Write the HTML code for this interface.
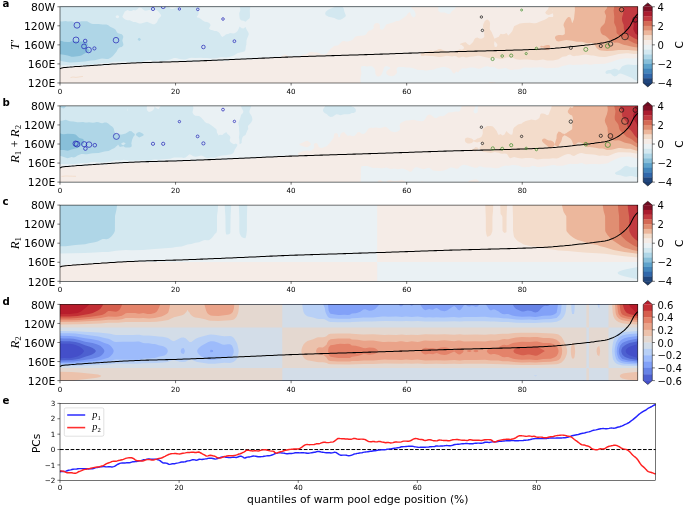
<!DOCTYPE html>
<html lang="en"><head><meta charset="utf-8"><title>Warm pool edge quantile composites</title>
<style>html,body{margin:0;padding:0;background:#fff}svg{display:block}text{fill:#000}</style></head>
<body>
<svg width="685" height="506" viewBox="0 0 685 506">
<rect width="685" height="506" fill="#fff"/>
<g>
<rect x="60.0" y="6.8" width="577.8" height="76.2" fill="#88bfd9"/>
<path d="M60 6.8L637.8 6.8L637.8 83L60 83L60 54.3L63.9 54.7L67.7 55.5L71.6 56.7L73.5 56.7L75.5 56.4L79.3 56.1L81.3 55.6L85.1 53.3L89.3 51.5L89.5 50.3L86.9 47.9L87.1 46.7L87.7 45.5L87.9 44.2L87.3 43L85.1 41.8L83.2 41.5L79.3 41.6L73.5 40.8L71.6 41.2L69.7 42.1L67.7 42.1L63.9 41.7L61.9 41L60 40.7Z" fill="#afd6e7" fill-rule="evenodd"/>
<path d="M60 6.8L637.8 6.8L637.8 83L60 83L60 60.5L61.9 61.3L69.7 62.4L71.6 62.5L85.1 61.6L90.9 60.6L94.8 60.3L100.6 58.8L102.5 58.6L106.4 59.1L108.3 59L111.1 57.6L112.2 56.6L112.7 56.3L116.6 51.5L118 48.7L119.9 47.3L121.8 46.9L123.2 45.5L123.4 44.2L122.3 40.6L123.3 37L123 35.8L121.8 34.2L118 33.3L116.9 32.2L115.6 29.7L114 28.5L110.2 26.8L108.3 25.3L106.4 24.4L104.4 24.6L102.5 24.5L98.6 24L92.9 23.9L90.9 23.4L87.1 21.3L81.3 21.3L75.5 22.4L71.6 21.3L67.7 21.4L65.8 21.1L61.9 21.5L60 21.3ZM138.4 38.2L137.6 39.4L138.6 40.6L139.2 40.9L140.1 40.6L141 39.4L140 38.2L139.2 37.7Z" fill="#d3e8f0" fill-rule="evenodd"/>
<path d="M170.1 6.8L177.6 6.8L175.9 8L172.1 8.9L170.1 8.4L169.8 8L169.3 6.8ZM201.1 6.8L239.8 6.8L240.3 9.2L240.3 10.4L239.4 12.8L239.2 14L239.7 18.4L240.7 20.1L241.6 20.6L243.6 20.8L245.5 21.7L247.4 19.9L249.1 18.8L249.9 17.6L250 15.2L249.8 10.4L250.4 6.8L335 6.8L328.6 9.6L327.3 10.4L326 11.6L325.3 12.8L325.2 14L325.9 15.2L328.6 16.8L334.4 17.9L336.3 19L338.3 19.8L340.2 19.7L342.1 19.1L344.3 17.6L345.5 16.4L345.8 15.2L344.3 11.6L343.9 9.2L343.4 8L342.5 6.8L637.8 6.8L637.8 64.8L633.9 64.9L628.1 64.5L626.2 64.8L622.7 66L621.3 67.2L620.6 68.4L620.4 69L619.9 69.6L618.5 70.4L617.5 69.6L614.6 68.6L610.7 70L608.8 70.1L606.9 70.5L606.3 70.9L605.3 72.1L605.7 73.3L606.9 74L608.8 73.4L610.7 73.4L612.7 75.6L614.6 76.5L616.8 75.7L618.5 74L620.4 73.6L622.3 74L624.3 74.7L632 78.1L633.9 79.6L635.9 80.5L637.8 80.7L637.8 83L60 83L60 65.5L63.9 65.2L71.6 65.2L92.9 64.4L94.8 64.2L100.6 63.3L102.5 63.1L106.4 63.3L108.3 63.1L112.2 61.9L114.1 61.8L125.7 61.6L129.6 62.3L131.5 62.3L135.4 61.7L141.2 61.9L145 60.7L148.9 60L150.8 60.1L152.8 60.8L154.7 61.1L158.6 60.3L162.4 60.9L164.4 60.8L170.1 59.5L174 58L175.9 58L179.8 59L183.7 59.6L185.6 59.4L189.5 58L191.4 57.7L195.3 58.1L201.1 57.8L203 58L206.9 58L210.7 58.5L216.5 58.2L220.4 57.3L222.3 57.2L226.2 57.4L230.1 56.7L233.9 55.5L237.8 53L243.6 51.8L244.3 51.5L245.4 50.3L245.8 46.7L246.4 44.2L246.5 40.6L247.2 38.2L248.3 35.8L248.7 34.6L248.7 33.4L248.2 32.2L246.7 29.7L245.5 26.9L243.6 28.6L241.6 28.3L239.7 26.4L237.6 30.9L235.9 32.5L233.9 33.4L232 33.3L230.1 33L228.1 34L226.2 34.2L224.3 35.7L222.3 36.9L221.1 35.8L220.4 34.6L219.9 33.4L218.7 32.2L216.5 31L214.6 30.9L212.7 30.2L210.4 29.7L208.9 28.5L210.3 26.1L210.5 24.9L210 23.7L208.8 22.7L206.9 22L204.9 21.8L202 20.1L201.1 19.1L200.4 18.8L199.1 17.7L197.5 17.6L197.2 17.5L196.8 16.4L198 15.2L198.5 14L198.8 11.6L199.1 10.4L200.5 6.8ZM139.2 7.4L141.2 7.8L143.1 9.5L145 10.7L147 10.5L148.9 10.1L152.8 10.3L154.7 10L156.6 10.1L158.4 11.6L161.2 15.2L160.8 16.4L158.6 18.7L156.8 22.5L154.7 24.2L152.8 24.2L147 21.7L141.2 23.5L139.2 23.4L135.4 22.1L133.4 22.1L129.6 20.2L127.6 20.3L125.7 19.7L124.2 18.8L122.8 17.6L122.4 16.4L124.8 11.6L127.6 10.1L128.5 10.4L129.6 11L131.5 11.1L133.4 10.1L135.4 10.4L137.3 9.3ZM116 15.8L118 15.2L119.2 16.4L118.8 17.6L118 18.2L116 17.8L115.7 16.4Z" fill="#eaf1f4" fill-rule="evenodd"/>
<path d="M411.7 6.8L438.2 6.8L438.4 8L438.2 10.4L438.9 11.6L440.7 12.6L444.6 12.4L448.4 14L450.4 13.4L451.5 11.6L452.7 10.4L454.2 9.4L455.4 8L456 6.8L496.4 6.8L496.7 7.6L498.7 7.3L498.9 6.8L637.8 6.8L637.8 57.6L633.9 58.4L626.2 58.3L620.4 59L616.8 60L612.7 61.6L606.9 63.3L604.9 63.7L599.2 64.1L595.3 63.9L593.4 64.2L591.4 64.7L589.5 64.7L587.6 64.2L585.6 64.1L581.8 64.8L576 64.8L574 65.1L572.1 64.9L570.2 64.4L568.2 64.7L566.3 65.3L562.4 65.9L558.6 67.4L552.8 68L548.9 68L547 68.3L545 68.1L541.2 67.3L539.2 67.2L537.3 67.5L533.4 67.5L529.6 67.8L525.7 67.4L523.8 67.6L519.9 69.3L518 69.6L514.1 69.5L512.2 70L510.3 69.9L509.3 69.6L508.3 69.2L506.4 67.9L504.5 68L502.5 68.6L500.6 68.8L498.7 69.3L496.7 68.6L494.8 67.4L492.9 67L490.9 67.3L487.1 66.2L485.1 66.4L481.3 68.2L479.3 68.8L477.4 68.5L475.5 67.9L473.5 67.5L469.7 67.6L465.8 68.4L463.9 68.2L461.9 68.4L459.1 70.9L458.1 72.6L456.2 71.6L454.2 73.8L452.3 72.3L451.8 70.9L450.9 69.6L448.4 68.1L444.6 66.9L442.6 67L440.7 67.5L436.8 68.2L433 69.8L429.1 69.9L427.2 70.4L425.2 70.5L423.3 70.1L421.4 70L419.4 70.1L417.5 69.8L413.6 68.2L409.8 67.6L405.9 67.5L404 66.9L398.2 67L396.7 68.4L396.5 69.6L397.1 72.1L396.7 73.3L395.6 74.5L394.3 75.4L392.4 76.2L390.4 76.1L388.5 75.6L386.9 74.5L386.3 73.3L386.2 72.1L386.8 70.9L388.5 69.5L390.3 68.4L389.8 67.2L388.5 66.8L386.6 66.1L384.7 66.7L384.2 67.2L383.7 68.4L383 70.9L381.6 74.5L380.8 75.5L378.9 76.5L376.9 76.2L375.6 74.5L375.3 73.3L375.3 70.9L375 69.6L374.4 68.4L373.1 67L371.1 66.1L367.3 66.4L363.4 66L361.5 66.2L361 67.2L360.9 69.6L361.4 73.3L360.5 78.1L360.6 83L60 83L60 68.6L61.9 67.9L71.6 67.8L72.5 67.2L73.5 66.9L87.1 66.8L89 65.8L106.4 65.7L108.3 64.5L125.7 64.4L127.6 63.3L160.5 63.3L162.4 62.1L197.2 62L199.1 60.9L228.1 60.9L230.1 59.7L243.6 59.4L255.2 59.5L257.1 58.3L274.5 57.9L278.5 57.6L280.3 56.9L284.2 54.5L286.1 54.7L288.5 56.3L290 56.6L295.8 56.7L299.6 56.5L300.4 56.3L301.6 55.2L303.5 54.4L305.4 54.5L307.4 53.6L309.3 52.2L311.2 51.7L315.1 52.4L317 52.4L318.9 53L320.9 53.9L322.8 54.3L324.7 54.2L326.7 53.8L328.6 51.2L330.5 49.1L334.4 45.7L336.3 45.8L338.3 45.3L342.1 41.2L344.1 41L346 41.6L347.9 41.6L351.8 40.2L352.8 39.4L354.9 37L355.7 36.4L357.6 36L363.4 35.6L365.3 34.9L366.8 33.4L367.3 32.2L368.6 30.9L369.2 30.6L371.1 30.2L373.5 28.5L373.7 27.3L373.6 26.1L373.8 24.9L375 23.4L376.9 22.9L378.9 23.4L379.2 23.7L379.8 24.9L379.8 27.3L380.1 28.5L380.8 29.4L382.7 29.8L384.6 27.3L385.8 24.9L386.6 24.3L393 22.5L396.2 20.9L398.2 21L400.1 20.3L405.3 16.4L406.7 15.2L407.8 13.5L409.8 12.1L410.3 12.8L411.2 15.2L412.3 16.4L413.6 17.4L415.2 16.4L415.6 15.2L415.6 13.7L414.8 11.6L413.6 9.7L412.7 9.2L411.5 8L411.2 6.8ZM489 82.6L490.9 81.9L494.8 82.4L495.4 83L488.5 83Z" fill="#f5ece7" fill-rule="evenodd"/>
<path d="M548.9 6.8L637.8 6.8L637.8 53.8L633.9 53.9L628.1 53.2L626.2 53.2L618.5 54.1L612.7 55.6L608.8 56.2L606.9 56.7L604.9 56.9L599.2 56.8L593.4 55.6L591.4 55.5L585.6 54.5L583.7 54.7L577.9 55.7L576 55.7L574 56.3L572.1 55.8L570.2 54.5L568.2 55.1L566.3 56.3L564.4 56.6L562.4 56.7L558.6 59.2L556.6 59.8L552.8 60.4L547 60.5L543.1 59.4L537.3 60.2L535.4 60.2L527.7 59.4L523.8 59.4L519.9 59.7L518 59.6L516.1 59.3L512.2 57.6L508.3 57.3L506.4 57.4L502.5 58.9L500.6 59L494.8 57.8L489 57.9L479.3 55.8L477.4 55.8L473.5 56.4L469.7 56.7L467.7 57.2L465.8 57.4L463.9 56.7L461.9 56.7L460 57.6L458.1 57.6L456.2 56.2L454.2 55.9L452.3 56.5L446.5 55.8L440.7 57L438.8 57.1L434.4 56.3L433 55.9L429.1 55.9L425.2 55.6L423.3 56.1L421.4 55.9L420.7 55.1L420.7 53.9L421.4 53L423.3 52.2L425.2 52.3L427.2 51.9L429.1 50.9L431 50.6L433 51L434.9 50.8L436.8 50.1L438.8 49.1L440.7 49L444.6 50.7L446.5 51.3L450.4 51.8L454.2 51.9L456.2 51.4L458.1 50L460 49.2L461.9 49.7L463.2 49.1L464.1 47.9L463.7 46.7L462.2 45.5L461.9 45L460 44.5L460 44.1L462.1 43L463.9 42.4L465.8 42.2L467.7 44.3L469.7 45.3L471.6 43.4L472.2 43L473.2 41.8L474.2 39.4L475.5 38L477.4 37.4L479.3 38.5L481.3 38.8L483.2 38.1L484.2 37L484.3 35.8L484 30.9L483 27.3L483.1 24.9L483.5 23.7L484.7 21.3L486.1 20.1L487.1 19.5L488.1 20.1L489.4 21.3L489.9 22.5L490.1 23.7L489.8 27.3L489.8 28.5L490.1 29.7L491.6 32.1L493.7 37L494.8 38.9L495.3 38.2L498.7 36.7L500.6 33.7L502.5 34.2L504.5 34L506.4 33L508.3 35.5L510.3 33.6L512.2 31.3L514.1 26.3L516.6 24.9L519.9 23.6L523.8 23.1L529.6 22.7L533.4 23.3L535.4 23.2L537.3 22.8L541.2 21L544.1 20.1L546.5 18.8L548.9 17.1L552.8 16.9L553.1 16.4L553.3 15.2L552.8 13.3L548.9 15L547 14.4L546.2 14L545.2 12.8L545.9 11.6L547.9 9.2L548.5 8L548.8 6.8ZM552.5 10.4L552.8 10.9L552.8 10.4L552.8 9.2ZM494.5 41.8L494.2 43L494.1 44.2L494.7 46.7L494.8 46.9L496.7 46.7L497.3 45.5L497.3 44.2L496.7 43.4L495.2 41.8L494.8 41Z" fill="#f3dccb" fill-rule="evenodd"/>
<path d="M576 6.8L637.8 6.8L637.8 50.7L633.9 50.6L628.1 50L626.2 49.9L622.3 50.1L618.5 50L612.7 50.8L606.9 51L601.1 50.4L599.2 49.9L597.2 48.6L596.6 47.9L594.3 44.2L593.4 43.2L592.5 43L591.4 42.8L589.5 43.2L587.6 43.3L583.7 42.2L581.8 41.8L576.8 41.8L572.1 40.8L566.3 40.1L562.4 40.7L558.6 41.6L556.6 41.1L555 38.2L555 37L556.1 35.8L558.6 35L560.5 34.9L562.4 35.2L564.3 34.6L564.9 33.4L564.7 28.5L563.7 26.1L563.5 24.9L563.8 23.7L564.4 22.3L566.3 19L568.2 16.9L570.2 17.2L571.3 20.1L572.1 23.3L572.6 22.5L574 19.1L574.9 10.4L574.8 6.8ZM545 45.5L547 45L548.9 44.9L549.7 45.5L550.3 46.7L550 47.9L549.3 49.1L548.9 49.4L547 50.2L544.7 49.1L543.1 47.2L541.2 47.6L539.9 46.7L541.2 45.7L543.1 46.2Z" fill="#ecb79c" fill-rule="evenodd"/>
<path d="M608.8 6.8L637.8 6.8L637.8 47.6L633.9 47.1L630.1 46.3L626.2 45.2L624.3 44.9L622.1 44.2L618.5 42.7L616.5 42.5L614.6 42.7L612.7 42.1L610.7 40.7L606.9 37L604.9 35.6L603 35L601.4 33.4L600.8 32.2L600.5 30.9L600.3 29.7L600.4 28.5L601.1 27L604.3 23.7L604.9 22.5L606 16.4L605.9 15.2L604.8 12.8L604.6 11.6L605.1 10.4L606.9 8.2L607.3 6.8Z" fill="#e08e72" fill-rule="evenodd"/>
<path d="M614.6 6.8L637.8 6.8L637.8 44.3L633.8 43L628.1 40.1L623.4 38.2L621.4 37L616.9 33.4L616.5 32.2L616.5 29.7L616.1 27.3L614.6 24L614.1 22.5L614.3 16.4L613.6 10.4L614.2 6.8Z" fill="#d46a55" fill-rule="evenodd"/>
<path d="M624.3 6.8L637.8 6.8L637.8 39.7L635.9 39L634.3 38.2L626.2 33.4L625.1 32.2L624.5 30.9L623.8 28.5L623.7 24.9L622.2 21.3L621.9 18.8L622.3 16.4L623.1 14L623.3 12.8L623.3 10.4L623.7 6.8Z" fill="#c23a40" fill-rule="evenodd"/>
<path d="M637.8 6.8L637.8 35L635.9 33.9L635.4 33.4L634.6 32.1L633.4 29.7L633.3 28.5L633.8 24.9L633 21.3L633.1 20.1L633.6 18.8L636.3 15.2L636.7 14L637.3 8L637.3 6.8Z" fill="#ab1d2f" fill-rule="evenodd"/>
<polyline fill="none" stroke="#000" stroke-width="1.05" stroke-linejoin="round" points="60.0,68.8 61.9,67.9 63.9,67.6 65.8,67.4 67.7,67.2 69.7,67.1 71.6,66.9 73.5,66.8 75.5,66.6 77.4,66.5 79.3,66.4 81.3,66.2 83.2,66.1 85.1,65.9 87.1,65.8 89.0,65.7 90.9,65.5 92.9,65.4 94.8,65.3 96.7,65.2 98.6,65.0 100.6,64.9 102.5,64.8 104.4,64.6 106.4,64.5 108.3,64.4 110.2,64.2 112.2,64.1 114.1,64.0 116.0,63.9 118.0,63.8 119.9,63.7 121.8,63.6 123.8,63.5 125.7,63.4 127.6,63.3 129.6,63.2 131.5,63.1 133.4,63.0 135.4,62.9 137.3,62.8 139.2,62.8 141.2,62.7 143.1,62.6 145.0,62.5 147.0,62.5 148.9,62.4 150.8,62.4 152.8,62.3 154.7,62.3 156.6,62.2 158.6,62.2 160.5,62.1 162.4,62.1 164.4,62.0 166.3,62.0 168.2,61.9 170.1,61.9 172.1,61.8 174.0,61.8 175.9,61.7 177.9,61.7 179.8,61.6 181.7,61.5 183.7,61.5 185.6,61.4 187.5,61.3 189.5,61.2 191.4,61.2 193.3,61.1 195.3,61.0 197.2,61.0 199.1,60.9 201.1,60.8 203.0,60.7 204.9,60.6 206.9,60.6 208.8,60.5 210.7,60.4 212.7,60.3 214.6,60.2 216.5,60.2 218.5,60.1 220.4,60.0 222.3,59.9 224.3,59.8 226.2,59.8 228.1,59.7 230.1,59.6 232.0,59.5 233.9,59.4 235.9,59.3 237.8,59.3 239.7,59.2 241.6,59.1 243.6,59.0 245.5,58.9 247.4,58.8 249.4,58.8 251.3,58.7 253.2,58.6 255.2,58.5 257.1,58.4 259.0,58.3 261.0,58.2 262.9,58.1 264.8,58.1 266.8,58.0 268.7,57.9 270.6,57.8 272.6,57.7 274.5,57.6 276.4,57.5 278.4,57.5 280.3,57.4 282.2,57.3 284.2,57.2 286.1,57.1 288.0,57.1 290.0,57.0 291.9,56.9 293.8,56.8 295.8,56.8 297.7,56.7 299.6,56.7 301.6,56.6 303.5,56.5 305.4,56.5 307.4,56.4 309.3,56.3 311.2,56.3 313.1,56.2 315.1,56.2 317.0,56.1 318.9,56.0 320.9,56.0 322.8,55.9 324.7,55.9 326.7,55.8 328.6,55.7 330.5,55.7 332.5,55.6 334.4,55.6 336.3,55.5 338.3,55.4 340.2,55.4 342.1,55.3 344.1,55.3 346.0,55.2 347.9,55.2 349.9,55.1 351.8,55.0 353.7,55.0 355.7,54.9 357.6,54.9 359.5,54.8 361.5,54.7 363.4,54.7 365.3,54.6 367.3,54.6 369.2,54.5 371.1,54.4 373.1,54.4 375.0,54.3 376.9,54.3 378.9,54.2 380.8,54.1 382.7,54.1 384.7,54.0 386.6,53.9 388.5,53.9 390.4,53.8 392.4,53.7 394.3,53.7 396.2,53.6 398.2,53.5 400.1,53.5 402.0,53.4 404.0,53.3 405.9,53.3 407.8,53.2 409.8,53.1 411.7,53.1 413.6,53.0 415.6,52.9 417.5,52.9 419.4,52.8 421.4,52.7 423.3,52.7 425.2,52.6 427.2,52.5 429.1,52.5 431.0,52.4 433.0,52.4 434.9,52.3 436.8,52.2 438.8,52.2 440.7,52.1 442.6,52.0 444.6,52.0 446.5,51.9 448.4,51.9 450.4,51.8 452.3,51.7 454.2,51.7 456.2,51.6 458.1,51.6 460.0,51.5 461.9,51.5 463.9,51.4 465.8,51.4 467.7,51.3 469.7,51.3 471.6,51.2 473.5,51.2 475.5,51.1 477.4,51.1 479.3,51.0 481.3,51.0 483.2,50.9 485.1,50.9 487.1,50.8 489.0,50.8 490.9,50.7 492.9,50.7 494.8,50.6 496.7,50.6 498.7,50.5 500.6,50.5 502.5,50.4 504.5,50.4 506.4,50.3 508.3,50.3 510.3,50.2 512.2,50.2 514.1,50.1 516.1,50.0 518.0,50.0 519.9,49.9 521.9,49.9 523.8,49.8 525.7,49.7 527.7,49.7 529.6,49.6 531.5,49.5 533.4,49.4 535.4,49.4 537.3,49.3 539.2,49.2 541.2,49.1 543.1,49.0 545.0,48.9 547.0,48.8 548.9,48.7 550.8,48.6 552.8,48.4 554.7,48.3 556.6,48.1 558.6,47.9 560.5,47.8 562.4,47.6 564.4,47.4 566.3,47.2 568.2,47.0 570.2,46.8 572.1,46.6 574.0,46.4 576.0,46.2 577.9,46.0 579.8,45.8 581.8,45.6 583.7,45.4 585.6,45.1 587.6,44.9 589.5,44.7 591.4,44.5 593.4,44.2 595.3,43.9 597.2,43.7 599.2,43.4 601.1,43.1 603.0,42.9 604.9,42.6 606.9,42.1 608.8,41.6 610.7,40.9 612.7,40.1 614.6,39.3 616.5,38.2 618.5,37.1 620.4,35.7 622.3,34.3 624.3,32.6 626.2,30.7 628.1,28.6 630.1,26.0 632.0,22.2 633.9,18.7 635.9,15.9 637.8,13.9"/>
</g>
<rect x="60.0" y="6.8" width="577.8" height="76.2" fill="none" stroke="#000" stroke-width="0.55"/>
<line x1="57.4" y1="6.75" x2="60.0" y2="6.75" stroke="#000" stroke-width="0.55"/>
<text x="55.3" y="10.95" font-family="'DejaVu Sans','Liberation Sans',sans-serif" font-size="10.8" text-anchor="end">80W</text>
<line x1="57.4" y1="25.80" x2="60.0" y2="25.80" stroke="#000" stroke-width="0.55"/>
<text x="55.3" y="30.00" font-family="'DejaVu Sans','Liberation Sans',sans-serif" font-size="10.8" text-anchor="end">120W</text>
<line x1="57.4" y1="44.85" x2="60.0" y2="44.85" stroke="#000" stroke-width="0.55"/>
<text x="55.3" y="49.05" font-family="'DejaVu Sans','Liberation Sans',sans-serif" font-size="10.8" text-anchor="end">160W</text>
<line x1="57.4" y1="63.90" x2="60.0" y2="63.90" stroke="#000" stroke-width="0.55"/>
<text x="55.3" y="68.10" font-family="'DejaVu Sans','Liberation Sans',sans-serif" font-size="10.8" text-anchor="end">160E</text>
<line x1="57.4" y1="82.95" x2="60.0" y2="82.95" stroke="#000" stroke-width="0.55"/>
<text x="55.3" y="87.15" font-family="'DejaVu Sans','Liberation Sans',sans-serif" font-size="10.8" text-anchor="end">120E</text>
<line x1="60.00" y1="83.0" x2="60.00" y2="85.5" stroke="#000" stroke-width="0.55"/>
<text x="60.00" y="94.0" font-family="'DejaVu Sans','Liberation Sans',sans-serif" font-size="7.1" text-anchor="middle">0</text>
<line x1="175.56" y1="83.0" x2="175.56" y2="85.5" stroke="#000" stroke-width="0.55"/>
<text x="175.56" y="94.0" font-family="'DejaVu Sans','Liberation Sans',sans-serif" font-size="7.1" text-anchor="middle">20</text>
<line x1="291.12" y1="83.0" x2="291.12" y2="85.5" stroke="#000" stroke-width="0.55"/>
<text x="291.12" y="94.0" font-family="'DejaVu Sans','Liberation Sans',sans-serif" font-size="7.1" text-anchor="middle">40</text>
<line x1="406.68" y1="83.0" x2="406.68" y2="85.5" stroke="#000" stroke-width="0.55"/>
<text x="406.68" y="94.0" font-family="'DejaVu Sans','Liberation Sans',sans-serif" font-size="7.1" text-anchor="middle">60</text>
<line x1="522.24" y1="83.0" x2="522.24" y2="85.5" stroke="#000" stroke-width="0.55"/>
<text x="522.24" y="94.0" font-family="'DejaVu Sans','Liberation Sans',sans-serif" font-size="7.1" text-anchor="middle">80</text>
<g>
<rect x="643.2" y="6.75" width="9.1" height="5.06" fill="#7f1025"/>
<rect x="643.2" y="11.51" width="9.1" height="5.06" fill="#ab1d2f"/>
<rect x="643.2" y="16.27" width="9.1" height="5.06" fill="#c23a40"/>
<rect x="643.2" y="21.04" width="9.1" height="5.06" fill="#d46a55"/>
<rect x="643.2" y="25.80" width="9.1" height="5.06" fill="#e08e72"/>
<rect x="643.2" y="30.56" width="9.1" height="5.06" fill="#ecb79c"/>
<rect x="643.2" y="35.33" width="9.1" height="5.06" fill="#f3dccb"/>
<rect x="643.2" y="40.09" width="9.1" height="5.06" fill="#f5ece7"/>
<rect x="643.2" y="44.85" width="9.1" height="5.06" fill="#eaf1f4"/>
<rect x="643.2" y="49.61" width="9.1" height="5.06" fill="#d3e8f0"/>
<rect x="643.2" y="54.38" width="9.1" height="5.06" fill="#afd6e7"/>
<rect x="643.2" y="59.14" width="9.1" height="5.06" fill="#88bfd9"/>
<rect x="643.2" y="63.90" width="9.1" height="5.06" fill="#5fa3cb"/>
<rect x="643.2" y="68.66" width="9.1" height="5.06" fill="#4385bb"/>
<rect x="643.2" y="73.42" width="9.1" height="5.06" fill="#3168ab"/>
<rect x="643.2" y="78.19" width="9.1" height="5.06" fill="#20467d"/>
<path d="M643.2 6.8 L647.8 2.9 L652.3 6.8 Z" fill="#6e0c20"/>
<path d="M643.2 83.0 L647.8 86.9 L652.3 83.0 Z" fill="#1b3c6e"/>
<path d="M643.2 6.8 L647.8 2.9 L652.3 6.8 L652.3 83.0 L647.8 86.9 L643.2 83.0 Z" fill="none" stroke="#000" stroke-width="0.5"/>
</g>
<line x1="652.3" y1="6.75" x2="654.9" y2="6.75" stroke="#000" stroke-width="0.55"/>
<text x="657.4" y="10.85" font-family="'DejaVu Sans','Liberation Sans',sans-serif" font-size="10.1">4</text>
<line x1="652.3" y1="25.80" x2="654.9" y2="25.80" stroke="#000" stroke-width="0.55"/>
<text x="657.4" y="29.90" font-family="'DejaVu Sans','Liberation Sans',sans-serif" font-size="10.1">2</text>
<line x1="652.3" y1="44.85" x2="654.9" y2="44.85" stroke="#000" stroke-width="0.55"/>
<text x="657.4" y="48.95" font-family="'DejaVu Sans','Liberation Sans',sans-serif" font-size="10.1">0</text>
<line x1="652.3" y1="63.90" x2="654.9" y2="63.90" stroke="#000" stroke-width="0.55"/>
<text x="657.4" y="68.00" font-family="'DejaVu Sans','Liberation Sans',sans-serif" font-size="10.1">−2</text>
<line x1="652.3" y1="82.95" x2="654.9" y2="82.95" stroke="#000" stroke-width="0.55"/>
<text x="657.4" y="87.05" font-family="'DejaVu Sans','Liberation Sans',sans-serif" font-size="10.1">−4</text>
<text transform="translate(683.3,44.9) rotate(-90)" font-family="'DejaVu Sans','Liberation Sans',sans-serif" font-size="10.6" text-anchor="middle">C</text>
<g>
<rect x="60.0" y="105.9" width="577.8" height="76.2" fill="#88bfd9"/>
<path d="M60 105.9L637.8 105.9L637.8 182.1L60 182.1L60 150L63.9 150.1L67.7 150.7L71.6 149.4L77.4 147.9L79.3 147.1L81.3 145.6L83 144.6L83.8 143.4L84.1 142.2L84 141L83.2 139L79.3 138L77.4 136.3L76.2 134.9L75.5 134.6L73.5 134.1L67.7 133.8L63.9 134.3L61.9 134L60 133.2Z" fill="#afd6e7" fill-rule="evenodd"/>
<path d="M67.7 105.9L637.8 105.9L637.8 182.1L60 182.1L60 155.8L67.7 158.3L71.6 157L73.5 157.4L75.5 157L75.7 156.7L77.6 155.5L81.3 154.1L83.2 153.9L85.1 154.2L87.1 154.2L90.9 153.4L92.9 153.2L98.6 153L104.4 151.4L108.3 151L109.1 150.7L112.2 149L114.1 148.2L115.7 147L116 146.5L117.2 145.8L118 144.4L119.9 147.1L121.8 146.4L123.8 146.2L124.4 147L125.7 147.4L129.6 147.6L131.1 147L131.5 146.5L131.7 145.8L131.6 144.6L131.3 143.4L132.1 139.8L133.4 136.8L134.9 134.9L134.6 133.7L133.4 132.9L131.5 131.2L129.6 131L125.7 133.5L123.8 134L121.8 134.4L118 134.4L116 134.1L114.8 132.5L114.3 131.3L113.9 128.9L113.3 127.7L112.1 126.5L110.2 125.3L108.3 123.5L106.4 122.4L104.4 122.5L102.5 123.2L100.6 122.9L98.6 122.2L96.7 122.1L94.8 122.6L92.9 122.7L90.9 122.4L89 122.3L87.1 122.5L85.1 122.5L83.2 122.1L79.3 122.3L77.4 122.2L73.5 121.5L69.7 121.2L65.8 119.8L61.9 120.7L60 120.7L60 106.7L61.9 107.9L63.9 108.6L65.5 107.1L66 105.9ZM137.7 132.5L136.1 133.7L135.8 134.9L137 136.1L139.2 137.4L142.5 136.1L143.9 134.9L143 133.7L140.7 132.5L139.2 131.9ZM121.8 142.9L123.8 142.3L125.8 143.4L124.3 144.6L123.8 145.3L121.8 144.8L121.2 143.4Z" fill="#d3e8f0" fill-rule="evenodd"/>
<path d="M148.9 105.9L154.7 105.9L154.3 108.3L153.6 109.5L152.3 110.7L150.8 111.6L148.9 112L147.5 110.7L147 109.9L146.7 108.3L147 105.9ZM156.6 105.9L160.5 105.9L158.6 109.3L156.4 108.3L155 107.1L154.7 105.9ZM193.3 105.9L241 105.9L241.6 108L243.2 110.7L243.3 111.9L242.7 113.2L241.6 114.3L240.9 115.6L240.3 118L238.4 122.8L238.4 124L239 126.5L239.1 127.7L239.1 130.1L239.4 133.7L238.9 137.3L239.5 141L239.4 143.4L239.7 144.3L241.6 142.9L241.8 139.8L242.5 137.3L243.6 135.9L245.5 134.9L247.4 130.2L248.3 128.9L247.9 126.5L248.4 125.3L249.4 124.5L251.3 122.2L252.2 120.4L252.4 119.2L252.2 118L251.9 116.8L251.3 115.4L249.8 113.2L249.4 111.9L249.5 110.7L250.9 107.1L251.2 105.9L325.1 105.9L324.7 106.9L323.7 108.3L323.1 109.5L323 110.7L323.6 111.9L325 113.2L326.7 114.1L328.6 116L330.5 117L332.5 116.8L336.3 114.2L338.3 114.5L340.2 115.3L344.1 114.3L347.9 114.3L349.9 114L351.8 112.9L353.7 113.1L355.4 111.9L355.7 111.5L355.8 110.7L355.8 109.5L355 108.3L353.7 106.9L351.8 106.8L351.5 105.9L637.8 105.9L637.8 166.8L635.9 167.2L630.1 167.3L628.1 166.2L626.2 165.8L624.3 166.6L620.4 169.8L615.3 172.4L614.9 173.6L616.5 174.8L620.4 175.3L624.3 176.4L626.2 176.7L630.1 176L632 176.1L635.9 177L637.8 177.2L637.8 182.1L60 182.1L60 164.1L67.7 164.2L75.5 163.9L83.2 163.1L87.1 163.1L90.9 162.3L94.8 161.9L100.6 162.6L102.5 162.5L106.4 161.9L110.2 161.8L114.1 160.6L116 160.3L119.9 160.5L123.8 159.8L127.6 160.4L137.3 160.6L139.2 160.5L141.2 160L143.1 159.9L147 160.6L148.9 160.7L150.8 160.3L152.8 159.7L154.7 159.4L158.6 159.7L160.5 159.6L170.1 158.7L174 157.6L175.9 157.4L181.7 157.6L183.7 157.9L185.6 157.4L189.5 154.3L191.4 155.1L193.3 156.2L195.3 156.8L197.2 156.6L199.1 155.9L201.1 155.5L203 156L204.9 157.3L206.9 157.9L208.8 157.9L210.7 157.5L214.6 157.7L218.5 156.3L222.3 155.5L226.2 155.2L228.1 154.7L230.1 154.6L232 154.1L233.2 153.1L234 151.9L234.8 149.4L235.9 148.1L237.2 145.8L237.3 144.6L235.9 143.4L233.9 144.3L232 143.3L230.7 142.2L229.8 141L229.7 139.8L230.2 138.6L230.4 137.3L229.9 136.1L227.3 133.7L226.2 132L225.7 132.5L223.7 133.7L222.3 135.1L220.4 134.7L219.1 134.9L218.5 135.8L218.4 134.9L216.9 132.5L216.7 130.1L216.1 128.9L213 126.5L208.8 123.6L206.9 123.3L204.9 122L203.9 120.4L201.1 117.4L199.1 116L195.3 115.7L193.6 114.4L192.8 113.2L192.5 111.9L193.4 108.3L193 105.9ZM127.6 108.2L127.8 109.5L127.6 111.2L127.3 110.7L127.3 109.5Z" fill="#eaf1f4" fill-rule="evenodd"/>
<path d="M461.9 105.9L475.4 105.9L474.9 108.3L473.6 110.7L473.5 111.9L474.8 113.2L475.5 113.4L477.4 112.4L477.7 111.9L477.8 110.7L477.7 108.3L478 105.9L637.8 105.9L637.8 158.1L635.9 158.2L630.1 156.8L628.1 156.5L622.3 156.9L620.4 157.3L616.5 158.7L610.7 161.4L608.8 162.8L606.9 163.6L599.2 164.2L595.3 163.9L591.4 164.1L589.5 163.9L585.6 164.5L581.8 163L579.8 163.2L577.9 163.9L572.1 164L570.2 163.7L562.4 165.7L556.6 165.8L554.7 165.1L552.8 164.9L544.4 166.4L539.2 167.1L537.3 167.1L533.4 165.7L531.5 166.1L529.6 166.9L523.8 167.3L521.9 166.9L519.9 166.1L518 165.5L514.1 164.9L512.2 165.1L510.3 165.5L508.3 165.7L506.4 165.6L504.5 165.8L500.6 166.9L498.7 167.9L496.7 168.3L494.8 168.3L490.9 167.4L485.1 167.5L483.2 167.2L481.3 166.4L479.3 166.2L477.4 167.5L475.5 167.9L469.7 166.2L467.7 165.5L463.9 164.8L461.9 165.2L460 166.6L458.1 168.6L456.2 168.8L454.2 167.9L452.3 167.4L450.4 167.6L446.5 169.6L444.6 170.2L440.7 170.9L438.8 171.1L433 170.6L430.7 168.8L429.1 167.8L427.2 167.9L425.2 168.8L423.3 169.2L419.4 168.1L417.5 167.3L415.6 167.2L413.6 168.6L411.7 171.4L409.8 171.8L407.8 170.5L406.8 170L404 168.9L402 168.6L398.2 169.2L394.3 168.6L390.4 169.1L386.6 167.6L382.7 168.3L380.8 168.3L376.9 167.8L375 168L373.1 168L367.3 166.1L363.4 165.9L361.5 166.2L361 167.6L360.8 170L360.9 176.1L360.6 182.1L60 182.1L60 166.9L67.7 166.9L71.6 166.7L73.5 166L87.1 165.9L89 164.8L106.4 164.8L108.3 163.7L125.7 163.5L127.6 162.5L160.5 162.4L162.4 161.3L183.7 161.2L189.5 161L197.2 161.2L199.1 160L228.1 159.9L230.1 158.8L243.6 158.7L249.4 158.3L255.2 158.4L257.1 157.2L262.9 157.4L278.4 157.1L282.2 156.9L284.2 155.7L295.8 155.7L299.4 155.5L298.1 154.3L298.1 153.1L300.5 151.9L303.5 151L307.4 150.4L309.3 151L311 150.7L312.8 149.4L314.1 148.2L314.5 147L313.7 144.6L314.6 143.4L315.1 143.1L317 143.3L317.9 144.6L318.7 147L320.9 148.1L322.8 147.8L324.3 147L326.7 146.2L329.3 143.4L333.1 138.6L333.8 137.3L334 134.9L334.4 133.4L336.3 132.9L337.4 133.7L338.2 134.9L338.1 136.1L338.3 137.3L340.2 137.1L340.2 135.1L339.8 134.9L340.2 134.9L340.9 133.7L342.1 132.6L344.1 132L346 134.3L347.9 136L349.9 135.2L351.8 136.1L353.7 136.2L355.7 134.8L357.6 132.2L359.5 132L361.5 133.7L363.4 134L364 133.7L365.8 132.5L368.2 128.9L369.2 128.1L371.1 127.7L373.1 128L375 127.5L376.9 127.4L378.9 127.9L380.8 127.9L384.7 126.7L386.6 127.3L388.7 128.9L390.7 131.3L394.3 132.2L396.2 132L398.2 131.3L399.8 130.1L400.1 128.9L399.6 125.3L400.1 123.7L401 122.8L404 121.2L405.8 120.4L409.8 120.3L411.7 119.9L413.6 119.7L417.5 120.8L419.4 120.9L421.4 121.3L423.3 121L425.2 118.9L427.2 115.6L429.1 114.4L431 114.9L434.9 118.1L436.8 117.9L438.8 116.5L440.7 116L442.6 116.2L444.6 115.6L445.8 114.4L448.4 112.5L452.3 112.3L454.2 111.8L456.2 111.6L458.1 111.8L460 111L461.4 107.1L461.7 105.9ZM307.4 140.8L309.7 142.2L310.7 143.4L310.9 144.6L309.6 145.8L307.4 147.2L305.4 147L301.6 145.8L299.6 145L299.3 144.6L299.6 144L300.4 143.4L301.6 143.1L305.4 141.2ZM473.5 179.7L475.5 179.3L477.4 179.8L479.3 181.8L479.8 182.1L467.7 182.1L469.7 180.5ZM378.9 180.1L380.8 180.2L382.7 181.6L384.7 182.1L386.6 181.4L388.5 180.2L390.4 179.9L392.4 180.7L394.3 181L398.2 180.7L402 179.8L404.3 180.9L405.8 182.1L377.3 182.1ZM421.4 181.6L423.3 181.8L423.5 182.1L421 182.1ZM489 181.7L489.2 182.1L488.1 182.1Z" fill="#f5ece7" fill-rule="evenodd"/>
<path d="M552.8 105.9L637.8 105.9L637.8 153.6L635.9 153.5L630.1 152.5L622.3 152.2L618.5 152.3L615.3 153.1L608.8 155.8L606.9 156L603 155.4L599.2 155.7L595.3 154.8L593.4 154.5L585.6 154L581.8 153L579.8 153.2L577.2 154.3L574 155.9L572.1 155.6L570.2 154.2L568.2 154L566.8 154.3L564.4 154.9L562.4 155.9L560.5 157.1L558.6 158L556.6 158.4L552.8 158.3L548.9 158.7L543.1 158.7L539.2 159.3L537.3 159.4L535.4 159L533.4 158.2L531.5 157.9L529.6 158.1L525.7 157.9L521.9 158.4L518 157.9L514.1 157.1L510.3 158.2L509.7 157.9L508.6 156.7L508 155.5L507.2 154.3L506.4 153.8L504.5 153.4L502.5 153.7L500.6 153.6L498.7 152.7L496.7 152.6L494.8 152.1L490.9 152.9L483.2 151.7L481.4 150.7L479.9 149.4L479.5 148.2L479.9 147L481.3 145.2L481.5 144.6L481.6 143.4L481.3 142.8L479.3 141.8L477.4 142.5L475.9 142.2L473.5 141.2L472.8 142.2L471.6 143L469.7 143.6L467.7 143.6L465.8 142.6L464.9 141L464.9 139.8L465.3 138.6L465.8 138L467.7 137.5L471.5 138.6L473.3 139.8L473.5 140.6L475.5 139.8L477.3 138.6L479.3 138L481.3 136.9L482.3 134.9L482.7 133.7L482.8 132.5L482.6 130.1L483 128.9L484.4 127.7L487.1 126L490.9 126L492.9 126.5L494.1 127.7L496.7 131.1L497.8 133.7L498.7 134.9L500.6 133.9L502.5 135.5L504.5 134.4L506.4 131.1L507.7 132.5L510.3 134.5L512.2 134.8L512.8 132.5L513 130.1L513.3 128.9L514.1 127.6L516.1 125.9L518 124.6L521.9 123.4L522.4 122.8L525.7 121L531.5 119.6L535.4 120.2L537.3 119.6L539.4 118L540.3 114.4L541.2 113.6L543.1 113.4L545 114L547 115.3L548.8 114.4L549.6 111.9L551.2 108.3L551.7 105.9ZM475.5 147L477.4 147.5L478.7 148.2L477.9 149.4L477.4 149.7L475.5 151.7L473.5 150.9L471.6 150.7L469.7 149.9L469.7 149.4L471.6 149.4L473.5 149.1Z" fill="#f3dccb" fill-rule="evenodd"/>
<path d="M574 105.9L637.8 105.9L637.8 150.8L635.9 150.6L630.1 148.8L626.2 148.7L620.4 147.9L618.5 148L616.5 148.4L612.7 149.5L608.8 150L606.9 149.9L603 148.4L599.2 148.6L595.3 147.8L589.5 147.1L587.6 147.2L585.6 146.3L583.7 144.3L581.8 143.1L579.8 142.6L577.9 142.5L574 145.6L573.3 144.6L572 141L571.4 139.8L570.3 138.6L566.3 136L564.4 135.3L562.4 137L561.4 141L560.5 142.7L559.9 143.4L558.6 146L556.6 146.3L555.6 145.8L554.7 144.6L555.6 141L556.5 138.6L556.7 134.9L557.2 133.7L558.6 131.6L560.5 131.9L562.4 133.4L563.7 133.7L564.4 134.3L564.8 133.7L566.3 133.2L567.1 132.5L571.1 130.1L572.1 129.2L572.3 127.7L572.2 124L572.9 120.4L572.9 118L572.1 115.6L570.2 114.8L568.5 113.2L567.8 111.9L567.9 110.7L570.2 107L572.1 108.1L573.1 107.1L573.6 105.9ZM543.1 138.7L545 138.6L547 139.7L548.9 140.5L550.8 140.5L552.1 141L553.8 142.2L554.4 143.4L554.7 144.6L554.2 145.8L552.7 147L550.8 147.9L548.6 147L543.1 142.5L542 141L542.1 139.8Z" fill="#ecb79c" fill-rule="evenodd"/>
<path d="M608.8 105.9L637.8 105.9L637.8 147.4L635.9 146.7L632 144.6L630.1 143.8L626.2 143.1L624.3 142.6L620.4 140.8L618.5 140.3L614.6 140.5L612.7 140.1L608.6 138.6L607.9 137.3L608.2 134.9L607.7 131.3L607.5 127.7L606.9 125.9L605.3 122.8L604.8 120.4L605.4 118L606.9 114.3L607.7 110.7L607.8 109.5L607.4 105.9Z" fill="#e08e72" fill-rule="evenodd"/>
<path d="M614.6 105.9L637.8 105.9L637.8 143.5L635.3 142.2L632 139.5L630.1 138.4L627.6 137.3L626.2 136.4L624.8 134.9L620.8 131.3L619.9 130.1L619.3 128.9L618.5 125.3L618 124L615.3 120.4L614.8 119.2L614.7 116.8L615.4 111.9L615.4 110.7L614.2 105.9Z" fill="#d46a55" fill-rule="evenodd"/>
<path d="M620.4 105.9L637.8 105.9L637.8 138.5L636.2 137.3L635 136.1L632 131.7L630.5 130.1L628.9 128.9L627.8 127.7L627.3 126.5L627.2 124L626.9 122.8L625.3 120.4L623.1 118L622.4 116.8L622.1 115.6L622 111.9L621.7 110.7L620.4 107.8L620 105.9Z" fill="#c23a40" fill-rule="evenodd"/>
<path d="M635.9 105.9L637.8 105.9L637.8 127.8L636.7 124L633.8 119.2L633.2 118L633 116.8L633.1 115.6L635 108.3L635.1 105.9Z" fill="#ab1d2f" fill-rule="evenodd"/>
<polyline fill="none" stroke="#000" stroke-width="1.05" stroke-linejoin="round" points="60.0,167.9 61.9,167.1 63.9,166.8 65.8,166.5 67.7,166.4 69.7,166.2 71.6,166.1 73.5,165.9 75.5,165.8 77.4,165.6 79.3,165.5 81.3,165.4 83.2,165.2 85.1,165.1 87.1,165.0 89.0,164.8 90.9,164.7 92.9,164.6 94.8,164.4 96.7,164.3 98.6,164.2 100.6,164.1 102.5,163.9 104.4,163.8 106.4,163.7 108.3,163.5 110.2,163.4 112.2,163.3 114.1,163.2 116.0,163.0 118.0,162.9 119.9,162.8 121.8,162.7 123.8,162.6 125.7,162.5 127.6,162.4 129.6,162.3 131.5,162.2 133.4,162.2 135.4,162.1 137.3,162.0 139.2,161.9 141.2,161.8 143.1,161.8 145.0,161.7 147.0,161.6 148.9,161.6 150.8,161.5 152.8,161.5 154.7,161.4 156.6,161.4 158.6,161.3 160.5,161.3 162.4,161.2 164.4,161.2 166.3,161.1 168.2,161.1 170.1,161.0 172.1,161.0 174.0,160.9 175.9,160.9 177.9,160.8 179.8,160.7 181.7,160.7 183.7,160.6 185.6,160.5 187.5,160.5 189.5,160.4 191.4,160.3 193.3,160.2 195.3,160.2 197.2,160.1 199.1,160.0 201.1,159.9 203.0,159.9 204.9,159.8 206.9,159.7 208.8,159.6 210.7,159.6 212.7,159.5 214.6,159.4 216.5,159.3 218.5,159.2 220.4,159.2 222.3,159.1 224.3,159.0 226.2,158.9 228.1,158.8 230.1,158.7 232.0,158.7 233.9,158.6 235.9,158.5 237.8,158.4 239.7,158.3 241.6,158.2 243.6,158.2 245.5,158.1 247.4,158.0 249.4,157.9 251.3,157.8 253.2,157.7 255.2,157.7 257.1,157.6 259.0,157.5 261.0,157.4 262.9,157.3 264.8,157.2 266.8,157.1 268.7,157.0 270.6,156.9 272.6,156.9 274.5,156.8 276.4,156.7 278.4,156.6 280.3,156.5 282.2,156.4 284.2,156.4 286.1,156.3 288.0,156.2 290.0,156.1 291.9,156.1 293.8,156.0 295.8,155.9 297.7,155.9 299.6,155.8 301.6,155.7 303.5,155.7 305.4,155.6 307.4,155.6 309.3,155.5 311.2,155.4 313.1,155.4 315.1,155.3 317.0,155.3 318.9,155.2 320.9,155.1 322.8,155.1 324.7,155.0 326.7,155.0 328.6,154.9 330.5,154.8 332.5,154.8 334.4,154.7 336.3,154.7 338.3,154.6 340.2,154.5 342.1,154.5 344.1,154.4 346.0,154.4 347.9,154.3 349.9,154.2 351.8,154.2 353.7,154.1 355.7,154.1 357.6,154.0 359.5,153.9 361.5,153.9 363.4,153.8 365.3,153.8 367.3,153.7 369.2,153.6 371.1,153.6 373.1,153.5 375.0,153.5 376.9,153.4 378.9,153.3 380.8,153.3 382.7,153.2 384.7,153.2 386.6,153.1 388.5,153.0 390.4,153.0 392.4,152.9 394.3,152.8 396.2,152.8 398.2,152.7 400.1,152.6 402.0,152.6 404.0,152.5 405.9,152.4 407.8,152.4 409.8,152.3 411.7,152.2 413.6,152.2 415.6,152.1 417.5,152.0 419.4,152.0 421.4,151.9 423.3,151.8 425.2,151.8 427.2,151.7 429.1,151.6 431.0,151.6 433.0,151.5 434.9,151.4 436.8,151.4 438.8,151.3 440.7,151.3 442.6,151.2 444.6,151.1 446.5,151.1 448.4,151.0 450.4,150.9 452.3,150.9 454.2,150.8 456.2,150.8 458.1,150.7 460.0,150.7 461.9,150.6 463.9,150.6 465.8,150.5 467.7,150.5 469.7,150.4 471.6,150.4 473.5,150.3 475.5,150.3 477.4,150.2 479.3,150.2 481.3,150.1 483.2,150.1 485.1,150.0 487.1,150.0 489.0,149.9 490.9,149.9 492.9,149.8 494.8,149.8 496.7,149.7 498.7,149.7 500.6,149.6 502.5,149.6 504.5,149.5 506.4,149.5 508.3,149.4 510.3,149.4 512.2,149.3 514.1,149.3 516.1,149.2 518.0,149.1 519.9,149.1 521.9,149.0 523.8,148.9 525.7,148.9 527.7,148.8 529.6,148.7 531.5,148.7 533.4,148.6 535.4,148.5 537.3,148.4 539.2,148.3 541.2,148.3 543.1,148.2 545.0,148.1 547.0,148.0 548.9,147.8 550.8,147.7 552.8,147.6 554.7,147.4 556.6,147.3 558.6,147.1 560.5,146.9 562.4,146.7 564.4,146.6 566.3,146.4 568.2,146.2 570.2,146.0 572.1,145.8 574.0,145.5 576.0,145.3 577.9,145.1 579.8,144.9 581.8,144.7 583.7,144.5 585.6,144.3 587.6,144.1 589.5,143.9 591.4,143.6 593.4,143.4 595.3,143.1 597.2,142.8 599.2,142.5 601.1,142.3 603.0,142.0 604.9,141.7 606.9,141.3 608.8,140.7 610.7,140.0 612.7,139.3 614.6,138.4 616.5,137.4 618.5,136.2 620.4,134.9 622.3,133.4 624.3,131.8 626.2,129.9 628.1,127.8 630.1,125.2 632.0,121.4 633.9,117.8 635.9,115.1 637.8,113.1"/>
</g>
<rect x="60.0" y="105.9" width="577.8" height="76.2" fill="none" stroke="#000" stroke-width="0.55"/>
<line x1="57.4" y1="105.90" x2="60.0" y2="105.90" stroke="#000" stroke-width="0.55"/>
<text x="55.3" y="110.10" font-family="'DejaVu Sans','Liberation Sans',sans-serif" font-size="10.8" text-anchor="end">80W</text>
<line x1="57.4" y1="124.95" x2="60.0" y2="124.95" stroke="#000" stroke-width="0.55"/>
<text x="55.3" y="129.15" font-family="'DejaVu Sans','Liberation Sans',sans-serif" font-size="10.8" text-anchor="end">120W</text>
<line x1="57.4" y1="144.00" x2="60.0" y2="144.00" stroke="#000" stroke-width="0.55"/>
<text x="55.3" y="148.20" font-family="'DejaVu Sans','Liberation Sans',sans-serif" font-size="10.8" text-anchor="end">160W</text>
<line x1="57.4" y1="163.05" x2="60.0" y2="163.05" stroke="#000" stroke-width="0.55"/>
<text x="55.3" y="167.25" font-family="'DejaVu Sans','Liberation Sans',sans-serif" font-size="10.8" text-anchor="end">160E</text>
<line x1="57.4" y1="182.10" x2="60.0" y2="182.10" stroke="#000" stroke-width="0.55"/>
<text x="55.3" y="186.30" font-family="'DejaVu Sans','Liberation Sans',sans-serif" font-size="10.8" text-anchor="end">120E</text>
<line x1="60.00" y1="182.1" x2="60.00" y2="184.7" stroke="#000" stroke-width="0.55"/>
<text x="60.00" y="193.2" font-family="'DejaVu Sans','Liberation Sans',sans-serif" font-size="7.1" text-anchor="middle">0</text>
<line x1="175.56" y1="182.1" x2="175.56" y2="184.7" stroke="#000" stroke-width="0.55"/>
<text x="175.56" y="193.2" font-family="'DejaVu Sans','Liberation Sans',sans-serif" font-size="7.1" text-anchor="middle">20</text>
<line x1="291.12" y1="182.1" x2="291.12" y2="184.7" stroke="#000" stroke-width="0.55"/>
<text x="291.12" y="193.2" font-family="'DejaVu Sans','Liberation Sans',sans-serif" font-size="7.1" text-anchor="middle">40</text>
<line x1="406.68" y1="182.1" x2="406.68" y2="184.7" stroke="#000" stroke-width="0.55"/>
<text x="406.68" y="193.2" font-family="'DejaVu Sans','Liberation Sans',sans-serif" font-size="7.1" text-anchor="middle">60</text>
<line x1="522.24" y1="182.1" x2="522.24" y2="184.7" stroke="#000" stroke-width="0.55"/>
<text x="522.24" y="193.2" font-family="'DejaVu Sans','Liberation Sans',sans-serif" font-size="7.1" text-anchor="middle">80</text>
<g>
<rect x="643.2" y="105.90" width="9.1" height="5.06" fill="#7f1025"/>
<rect x="643.2" y="110.66" width="9.1" height="5.06" fill="#ab1d2f"/>
<rect x="643.2" y="115.43" width="9.1" height="5.06" fill="#c23a40"/>
<rect x="643.2" y="120.19" width="9.1" height="5.06" fill="#d46a55"/>
<rect x="643.2" y="124.95" width="9.1" height="5.06" fill="#e08e72"/>
<rect x="643.2" y="129.71" width="9.1" height="5.06" fill="#ecb79c"/>
<rect x="643.2" y="134.48" width="9.1" height="5.06" fill="#f3dccb"/>
<rect x="643.2" y="139.24" width="9.1" height="5.06" fill="#f5ece7"/>
<rect x="643.2" y="144.00" width="9.1" height="5.06" fill="#eaf1f4"/>
<rect x="643.2" y="148.76" width="9.1" height="5.06" fill="#d3e8f0"/>
<rect x="643.2" y="153.53" width="9.1" height="5.06" fill="#afd6e7"/>
<rect x="643.2" y="158.29" width="9.1" height="5.06" fill="#88bfd9"/>
<rect x="643.2" y="163.05" width="9.1" height="5.06" fill="#5fa3cb"/>
<rect x="643.2" y="167.81" width="9.1" height="5.06" fill="#4385bb"/>
<rect x="643.2" y="172.57" width="9.1" height="5.06" fill="#3168ab"/>
<rect x="643.2" y="177.34" width="9.1" height="5.06" fill="#20467d"/>
<path d="M643.2 105.9 L647.8 102.0 L652.3 105.9 Z" fill="#6e0c20"/>
<path d="M643.2 182.1 L647.8 186.0 L652.3 182.1 Z" fill="#1b3c6e"/>
<path d="M643.2 105.9 L647.8 102.0 L652.3 105.9 L652.3 182.1 L647.8 186.0 L643.2 182.1 Z" fill="none" stroke="#000" stroke-width="0.5"/>
</g>
<line x1="652.3" y1="105.90" x2="654.9" y2="105.90" stroke="#000" stroke-width="0.55"/>
<text x="657.4" y="110.00" font-family="'DejaVu Sans','Liberation Sans',sans-serif" font-size="10.1">4</text>
<line x1="652.3" y1="124.95" x2="654.9" y2="124.95" stroke="#000" stroke-width="0.55"/>
<text x="657.4" y="129.05" font-family="'DejaVu Sans','Liberation Sans',sans-serif" font-size="10.1">2</text>
<line x1="652.3" y1="144.00" x2="654.9" y2="144.00" stroke="#000" stroke-width="0.55"/>
<text x="657.4" y="148.10" font-family="'DejaVu Sans','Liberation Sans',sans-serif" font-size="10.1">0</text>
<line x1="652.3" y1="163.05" x2="654.9" y2="163.05" stroke="#000" stroke-width="0.55"/>
<text x="657.4" y="167.15" font-family="'DejaVu Sans','Liberation Sans',sans-serif" font-size="10.1">−2</text>
<line x1="652.3" y1="182.10" x2="654.9" y2="182.10" stroke="#000" stroke-width="0.55"/>
<text x="657.4" y="186.20" font-family="'DejaVu Sans','Liberation Sans',sans-serif" font-size="10.1">−4</text>
<text transform="translate(683.3,144.0) rotate(-90)" font-family="'DejaVu Sans','Liberation Sans',sans-serif" font-size="10.6" text-anchor="middle">C</text>
<g>
<rect x="60.0" y="205.1" width="577.8" height="76.2" fill="#afd6e7"/>
<path d="M118 205.1L637.8 205.1L637.8 281.3L60 281.3L60 246.2L65.8 246.2L75.5 245L85.1 244.3L89 243.3L94.8 242.3L97.5 241.4L102.5 239.1L104.4 239.1L106.4 239.3L108.3 238.8L109.9 237.8L111.3 236.5L112.4 235.3L114 232.9L114.6 231.7L114.9 230.5L115 216L116.4 209.9L117.1 205.1Z" fill="#d3e8f0" fill-rule="evenodd"/>
<path d="M218.5 205.1L224.7 205.1L225 211.1L225.4 216L225.6 231.7L226.2 234.4L228.1 234.4L230.1 233.4L230.4 231.7L230.6 216L230.9 211.1L231.2 205.1L238.8 205.1L239.3 217.2L239.3 230.5L239.7 233.5L240.5 235.3L241.6 236.9L243.6 238L245.5 238.2L246.3 235.3L246.9 230.5L246.9 217.2L247.3 205.1L637.8 205.1L637.8 267L626.2 269.2L622.3 270.2L618.9 271.6L617.5 272.8L618.2 274L620.8 275.3L625 276.5L637.8 279.3L637.8 281.3L60 281.3L60 253.4L85.1 253L94.8 252.5L102.5 251.9L108.3 251.9L116 250.8L125.7 249.9L131.5 250.2L143.1 249.9L154.7 248.9L158.6 248.8L168.2 247.9L172.1 247.7L175.9 247L181.7 246.4L187.5 244.6L191.4 244.1L195.3 242.7L199.1 242.2L203 240.4L204.9 240.1L206.9 240.3L208.8 240.2L210.7 239L212 237.8L214 235.3L214.6 234.3L216.5 232.4L216.7 231.7L217 230.5L217 216L217.7 211.1L218.1 205.1Z" fill="#eaf1f4" fill-rule="evenodd"/>
<path d="M378.9 205.1L637.8 205.1L637.8 262.1L378.9 262.1L377.2 261.9L377.2 205.1ZM98.6 262.4L114.1 262.4L116 262.1L376.9 262.1L377.2 263.2L377.2 281.3L60 281.3L60 266.9L61.9 265.7L63.9 265.7L65.8 264.5L79.3 264.5L81.3 263.4L96.7 263.4Z" fill="#f5ece7" fill-rule="evenodd"/>
<path d="M487.1 205.1L493.2 205.1L493 211.1L492.4 217.2L492.4 230.5L492.2 231.7L490.9 235.1L489 236.2L487.1 236.7L486.3 234.1L485.8 230.5L485.8 217.2L485.3 205.1ZM500.6 205.1L507.1 205.1L506.6 216L506.5 231.7L506.4 232.3L504.5 233L503.1 231.7L502.5 230.5L502.4 217.2L502.1 216L500.6 213.9L500.2 205.1ZM514.1 205.1L637.8 205.1L637.8 257.6L624.3 256.3L604.9 253.8L597.2 253.2L587.6 252.8L577.9 252.1L568.2 251.1L558.6 250.4L545.9 248.6L539.2 247.5L535.4 246.5L531.5 246.4L525.7 245.1L523.8 244.4L518 241.3L516.1 239.5L514.7 237.8L514.1 237L513.7 235.3L513 230.5L513 217.2L512.6 205.1Z" fill="#f3dccb" fill-rule="evenodd"/>
<path d="M562.4 205.1L637.8 205.1L637.8 253.8L624.3 251.9L613.6 249.9L604.9 247.3L600.4 246.2L597.2 245.1L587.6 243.4L583.7 241.7L577.9 240.1L576 239.3L573.4 237.8L570.1 235.3L566.9 231.7L566.4 230.5L566.3 216.7L566.2 216L563.9 212.4L563.3 211.1L562.2 206.3L562 205.1Z" fill="#ecb79c" fill-rule="evenodd"/>
<path d="M603 205.1L637.8 205.1L637.8 250.9L632.3 249.9L627.8 248.6L624.2 247.4L621.7 246.2L612.7 240.2L609.9 237.8L607.7 235.3L605.5 231.7L605.2 230.5L605.1 216L603.6 211.1L602.7 205.1Z" fill="#e08e72" fill-rule="evenodd"/>
<path d="M618.5 205.1L637.8 205.1L637.8 247.3L635.1 246.2L632.8 245L628.1 242L625.7 240.2L621.8 236.5L621 235.3L619.8 232.9L619.2 230.5L619.1 216L618.4 211.1L618 206.3L617.9 205.1Z" fill="#d46a55" fill-rule="evenodd"/>
<path d="M628.1 205.1L637.8 205.1L637.8 241.2L634.8 239L632.3 236.5L631.3 235.3L629.5 231.7L629.2 230.5L629.2 217.2L628 208.7L627.7 205.1Z" fill="#c23a40" fill-rule="evenodd"/>
<path d="M637.8 205.1L637.8 215.5L636.9 211.1L636.4 205.1Z" fill="#ab1d2f" fill-rule="evenodd"/>
<polyline fill="none" stroke="#000" stroke-width="1.05" stroke-linejoin="round" points="60.0,267.1 61.9,266.3 63.9,266.0 65.8,265.7 67.7,265.6 69.7,265.4 71.6,265.3 73.5,265.1 75.5,265.0 77.4,264.8 79.3,264.7 81.3,264.6 83.2,264.4 85.1,264.3 87.1,264.2 89.0,264.0 90.9,263.9 92.9,263.8 94.8,263.6 96.7,263.5 98.6,263.4 100.6,263.3 102.5,263.1 104.4,263.0 106.4,262.9 108.3,262.7 110.2,262.6 112.2,262.5 114.1,262.4 116.0,262.2 118.0,262.1 119.9,262.0 121.8,261.9 123.8,261.8 125.7,261.7 127.6,261.6 129.6,261.5 131.5,261.4 133.4,261.4 135.4,261.3 137.3,261.2 139.2,261.1 141.2,261.0 143.1,261.0 145.0,260.9 147.0,260.8 148.9,260.8 150.8,260.7 152.8,260.7 154.7,260.6 156.6,260.6 158.6,260.5 160.5,260.5 162.4,260.4 164.4,260.4 166.3,260.3 168.2,260.3 170.1,260.2 172.1,260.2 174.0,260.1 175.9,260.1 177.9,260.0 179.8,259.9 181.7,259.9 183.7,259.8 185.6,259.7 187.5,259.7 189.5,259.6 191.4,259.5 193.3,259.4 195.3,259.4 197.2,259.3 199.1,259.2 201.1,259.1 203.0,259.1 204.9,259.0 206.9,258.9 208.8,258.8 210.7,258.8 212.7,258.7 214.6,258.6 216.5,258.5 218.5,258.4 220.4,258.4 222.3,258.3 224.3,258.2 226.2,258.1 228.1,258.0 230.1,257.9 232.0,257.9 233.9,257.8 235.9,257.7 237.8,257.6 239.7,257.5 241.6,257.4 243.6,257.4 245.5,257.3 247.4,257.2 249.4,257.1 251.3,257.0 253.2,256.9 255.2,256.9 257.1,256.8 259.0,256.7 261.0,256.6 262.9,256.5 264.8,256.4 266.8,256.3 268.7,256.2 270.6,256.1 272.6,256.1 274.5,256.0 276.4,255.9 278.4,255.8 280.3,255.7 282.2,255.6 284.2,255.6 286.1,255.5 288.0,255.4 290.0,255.3 291.9,255.3 293.8,255.2 295.8,255.1 297.7,255.1 299.6,255.0 301.6,254.9 303.5,254.9 305.4,254.8 307.4,254.8 309.3,254.7 311.2,254.6 313.1,254.6 315.1,254.5 317.0,254.5 318.9,254.4 320.9,254.3 322.8,254.3 324.7,254.2 326.7,254.2 328.6,254.1 330.5,254.0 332.5,254.0 334.4,253.9 336.3,253.9 338.3,253.8 340.2,253.7 342.1,253.7 344.1,253.6 346.0,253.6 347.9,253.5 349.9,253.4 351.8,253.4 353.7,253.3 355.7,253.3 357.6,253.2 359.5,253.1 361.5,253.1 363.4,253.0 365.3,253.0 367.3,252.9 369.2,252.8 371.1,252.8 373.1,252.7 375.0,252.7 376.9,252.6 378.9,252.5 380.8,252.5 382.7,252.4 384.7,252.4 386.6,252.3 388.5,252.2 390.4,252.2 392.4,252.1 394.3,252.0 396.2,252.0 398.2,251.9 400.1,251.8 402.0,251.8 404.0,251.7 405.9,251.6 407.8,251.6 409.8,251.5 411.7,251.4 413.6,251.4 415.6,251.3 417.5,251.2 419.4,251.2 421.4,251.1 423.3,251.0 425.2,251.0 427.2,250.9 429.1,250.8 431.0,250.8 433.0,250.7 434.9,250.6 436.8,250.6 438.8,250.5 440.7,250.5 442.6,250.4 444.6,250.3 446.5,250.3 448.4,250.2 450.4,250.1 452.3,250.1 454.2,250.0 456.2,250.0 458.1,249.9 460.0,249.9 461.9,249.8 463.9,249.8 465.8,249.7 467.7,249.7 469.7,249.6 471.6,249.6 473.5,249.5 475.5,249.5 477.4,249.4 479.3,249.4 481.3,249.3 483.2,249.3 485.1,249.2 487.1,249.2 489.0,249.1 490.9,249.1 492.9,249.0 494.8,249.0 496.7,248.9 498.7,248.9 500.6,248.8 502.5,248.8 504.5,248.7 506.4,248.7 508.3,248.6 510.3,248.6 512.2,248.5 514.1,248.5 516.1,248.4 518.0,248.3 519.9,248.3 521.9,248.2 523.8,248.1 525.7,248.1 527.7,248.0 529.6,247.9 531.5,247.9 533.4,247.8 535.4,247.7 537.3,247.6 539.2,247.5 541.2,247.5 543.1,247.4 545.0,247.3 547.0,247.2 548.9,247.0 550.8,246.9 552.8,246.8 554.7,246.6 556.6,246.5 558.6,246.3 560.5,246.1 562.4,245.9 564.4,245.8 566.3,245.6 568.2,245.4 570.2,245.2 572.1,245.0 574.0,244.7 576.0,244.5 577.9,244.3 579.8,244.1 581.8,243.9 583.7,243.7 585.6,243.5 587.6,243.3 589.5,243.1 591.4,242.8 593.4,242.6 595.3,242.3 597.2,242.0 599.2,241.7 601.1,241.5 603.0,241.2 604.9,240.9 606.9,240.5 608.8,239.9 610.7,239.2 612.7,238.5 614.6,237.6 616.5,236.6 618.5,235.4 620.4,234.1 622.3,232.6 624.3,231.0 626.2,229.1 628.1,227.0 630.1,224.4 632.0,220.6 633.9,217.0 635.9,214.3 637.8,212.3"/>
</g>
<rect x="60.0" y="205.1" width="577.8" height="76.2" fill="none" stroke="#000" stroke-width="0.55"/>
<line x1="57.4" y1="205.10" x2="60.0" y2="205.10" stroke="#000" stroke-width="0.55"/>
<text x="55.3" y="209.30" font-family="'DejaVu Sans','Liberation Sans',sans-serif" font-size="10.8" text-anchor="end">80W</text>
<line x1="57.4" y1="224.15" x2="60.0" y2="224.15" stroke="#000" stroke-width="0.55"/>
<text x="55.3" y="228.35" font-family="'DejaVu Sans','Liberation Sans',sans-serif" font-size="10.8" text-anchor="end">120W</text>
<line x1="57.4" y1="243.20" x2="60.0" y2="243.20" stroke="#000" stroke-width="0.55"/>
<text x="55.3" y="247.40" font-family="'DejaVu Sans','Liberation Sans',sans-serif" font-size="10.8" text-anchor="end">160W</text>
<line x1="57.4" y1="262.25" x2="60.0" y2="262.25" stroke="#000" stroke-width="0.55"/>
<text x="55.3" y="266.45" font-family="'DejaVu Sans','Liberation Sans',sans-serif" font-size="10.8" text-anchor="end">160E</text>
<line x1="57.4" y1="281.30" x2="60.0" y2="281.30" stroke="#000" stroke-width="0.55"/>
<text x="55.3" y="285.50" font-family="'DejaVu Sans','Liberation Sans',sans-serif" font-size="10.8" text-anchor="end">120E</text>
<line x1="60.00" y1="281.3" x2="60.00" y2="283.9" stroke="#000" stroke-width="0.55"/>
<text x="60.00" y="292.4" font-family="'DejaVu Sans','Liberation Sans',sans-serif" font-size="7.1" text-anchor="middle">0</text>
<line x1="175.56" y1="281.3" x2="175.56" y2="283.9" stroke="#000" stroke-width="0.55"/>
<text x="175.56" y="292.4" font-family="'DejaVu Sans','Liberation Sans',sans-serif" font-size="7.1" text-anchor="middle">20</text>
<line x1="291.12" y1="281.3" x2="291.12" y2="283.9" stroke="#000" stroke-width="0.55"/>
<text x="291.12" y="292.4" font-family="'DejaVu Sans','Liberation Sans',sans-serif" font-size="7.1" text-anchor="middle">40</text>
<line x1="406.68" y1="281.3" x2="406.68" y2="283.9" stroke="#000" stroke-width="0.55"/>
<text x="406.68" y="292.4" font-family="'DejaVu Sans','Liberation Sans',sans-serif" font-size="7.1" text-anchor="middle">60</text>
<line x1="522.24" y1="281.3" x2="522.24" y2="283.9" stroke="#000" stroke-width="0.55"/>
<text x="522.24" y="292.4" font-family="'DejaVu Sans','Liberation Sans',sans-serif" font-size="7.1" text-anchor="middle">80</text>
<g>
<rect x="643.2" y="205.10" width="9.1" height="5.06" fill="#7f1025"/>
<rect x="643.2" y="209.86" width="9.1" height="5.06" fill="#ab1d2f"/>
<rect x="643.2" y="214.62" width="9.1" height="5.06" fill="#c23a40"/>
<rect x="643.2" y="219.39" width="9.1" height="5.06" fill="#d46a55"/>
<rect x="643.2" y="224.15" width="9.1" height="5.06" fill="#e08e72"/>
<rect x="643.2" y="228.91" width="9.1" height="5.06" fill="#ecb79c"/>
<rect x="643.2" y="233.68" width="9.1" height="5.06" fill="#f3dccb"/>
<rect x="643.2" y="238.44" width="9.1" height="5.06" fill="#f5ece7"/>
<rect x="643.2" y="243.20" width="9.1" height="5.06" fill="#eaf1f4"/>
<rect x="643.2" y="247.96" width="9.1" height="5.06" fill="#d3e8f0"/>
<rect x="643.2" y="252.72" width="9.1" height="5.06" fill="#afd6e7"/>
<rect x="643.2" y="257.49" width="9.1" height="5.06" fill="#88bfd9"/>
<rect x="643.2" y="262.25" width="9.1" height="5.06" fill="#5fa3cb"/>
<rect x="643.2" y="267.01" width="9.1" height="5.06" fill="#4385bb"/>
<rect x="643.2" y="271.77" width="9.1" height="5.06" fill="#3168ab"/>
<rect x="643.2" y="276.54" width="9.1" height="5.06" fill="#20467d"/>
<path d="M643.2 205.1 L647.8 201.2 L652.3 205.1 Z" fill="#6e0c20"/>
<path d="M643.2 281.3 L647.8 285.2 L652.3 281.3 Z" fill="#1b3c6e"/>
<path d="M643.2 205.1 L647.8 201.2 L652.3 205.1 L652.3 281.3 L647.8 285.2 L643.2 281.3 Z" fill="none" stroke="#000" stroke-width="0.5"/>
</g>
<line x1="652.3" y1="205.10" x2="654.9" y2="205.10" stroke="#000" stroke-width="0.55"/>
<text x="657.4" y="209.20" font-family="'DejaVu Sans','Liberation Sans',sans-serif" font-size="10.1">4</text>
<line x1="652.3" y1="224.15" x2="654.9" y2="224.15" stroke="#000" stroke-width="0.55"/>
<text x="657.4" y="228.25" font-family="'DejaVu Sans','Liberation Sans',sans-serif" font-size="10.1">2</text>
<line x1="652.3" y1="243.20" x2="654.9" y2="243.20" stroke="#000" stroke-width="0.55"/>
<text x="657.4" y="247.30" font-family="'DejaVu Sans','Liberation Sans',sans-serif" font-size="10.1">0</text>
<line x1="652.3" y1="262.25" x2="654.9" y2="262.25" stroke="#000" stroke-width="0.55"/>
<text x="657.4" y="266.35" font-family="'DejaVu Sans','Liberation Sans',sans-serif" font-size="10.1">−2</text>
<line x1="652.3" y1="281.30" x2="654.9" y2="281.30" stroke="#000" stroke-width="0.55"/>
<text x="657.4" y="285.40" font-family="'DejaVu Sans','Liberation Sans',sans-serif" font-size="10.1">−4</text>
<text transform="translate(683.3,243.2) rotate(-90)" font-family="'DejaVu Sans','Liberation Sans',sans-serif" font-size="10.6" text-anchor="middle">C</text>
<g>
<rect x="60.0" y="304.4" width="577.8" height="76.2" fill="#444fc9"/>
<path d="M60 304.4L637.8 304.4L637.8 343.9L633.9 345.3L630.1 346.6L628.1 347.6L626.3 349.2L625.7 350.4L625.7 351.6L626.2 352.8L627.4 354L629.3 355.2L637.8 358.1L637.8 380.6L60 380.6L60 358.4L63.9 358.1L69.7 358.2L73.6 357.6L77.4 356.4L80 355.2L81.8 354L83 352.8L83.9 351.6L83.8 350.4L82.9 349.2L81.5 347.9L79.3 346.6L75.5 345L73.2 344.3L69.7 343.8L63.9 343.8L60 343.5Z" fill="#4d60d0" fill-rule="evenodd"/>
<path d="M60 304.4L637.8 304.4L637.8 341.2L629.5 343.1L626.2 344.5L624.3 345.7L622.3 347.6L621.6 349.2L621.3 350.4L621.3 351.6L621.6 352.8L622.3 354.5L624.3 356.4L626.2 357.6L629.9 358.8L637.8 360.1L637.8 380.6L60 380.6L60 360.2L71.6 360L75.5 359.6L79.5 358.8L85.1 356.8L90.9 355L92.9 354L94.7 352.8L95.7 351.6L95.7 350.4L94.5 349.2L92.6 347.9L89.8 346.7L85.1 345.3L79.3 343L75.5 342L71.6 341.4L69.7 341.2L63.9 341.2L60 340.9Z" fill="#6783e6" fill-rule="evenodd"/>
<path d="M60 304.4L512.8 304.4L514.1 307.1L516.1 309.1L521.9 311.6L523.8 311.6L527.7 310.6L529.6 310.7L531.5 311.1L533.4 312L535.4 312.5L537.3 312.1L537.9 311.7L539.3 310.4L541.2 308.2L543.1 306.4L545 305.8L547 305.9L548.9 305.6L550.2 304.4L637.8 304.4L637.8 338.5L628.1 340.5L624.3 341.9L622.3 342.9L620.4 345.3L619.7 346.7L619 349.2L618.8 351.6L619.2 354L620.2 356.4L621 357.6L622.3 358.9L624.3 359.6L628.1 360.5L637.8 361.6L637.8 380.6L60 380.6L60 361.7L73.5 361.4L79.3 360.7L92.2 358.8L97.1 357.6L99.9 356.4L101.6 355.2L102.9 354L103.8 352.8L104.3 351.6L104.3 350.4L103.7 349.2L102.7 347.9L100.6 346.1L98.6 345L96.7 344.3L92.6 343.1L85.1 341.7L79.3 340L73.5 338.8L69.7 338.4L63.9 338.5L60 338.3Z" fill="#82a1f8" fill-rule="evenodd"/>
<path d="M60 304.4L328 304.4L328.6 310.5L329.8 312.9L330.5 313.7L338.3 314.9L340.2 315L344.1 314.8L347.9 315L349.9 314.8L351.8 313.6L355.7 313.2L357.6 312.8L360.3 311.7L363.4 309.6L365.3 309.3L369.2 310.7L371.8 310.4L373.1 310.1L375 309.2L377.3 306.8L379.3 304.4L398.7 304.4L400.1 306.3L402 306.3L403.6 304.4L409.6 304.4L409.8 304.7L411.7 306L413.9 304.4L420.3 304.4L421.6 306.8L423.3 309L425.2 310.2L429.1 309.1L431 309.6L433 309.8L434.9 308.5L436.8 307.9L440.7 310.6L444.6 311.2L447 310.4L452.3 306.9L454.2 306L456.2 307.6L458.1 309.9L460 310.3L462 308L463.9 305.2L465.8 305L467.7 306.3L469.7 306.4L471.6 305.8L473.5 305.9L475.5 306.8L477.4 306.6L479.3 304.8L480.6 304.4L485.6 304.4L487.1 306.1L489 309.3L490.9 310.4L492.9 309.6L494.8 309.4L498.7 311.4L500.6 312.9L502.5 314L504.5 314.2L506.4 313.9L508.3 314.1L512.2 315.4L516.1 316.2L521.9 316.7L529.6 316.5L535.4 316.9L537.3 316.8L543.1 315.8L550.8 315.5L552.8 315L554.9 314.1L556.6 312.7L557.3 309.2L557.9 304.4L637.8 304.4L637.8 335.9L628.1 337.3L624.3 338.3L621.9 339.5L620.4 340.8L618.7 343.1L618.1 344.3L617 347.9L616.7 351.6L617 354L618.1 357.6L618.8 358.8L620.4 360.3L622.3 361.2L626.2 362L637.8 363L637.8 380.6L60 380.6L60 363.1L69.7 363.1L75.5 362.8L96.7 360.7L100.6 360L108.3 357.7L110.2 356.6L112.5 354L113.2 352.8L113.6 351.6L113.6 350.4L113.2 349.2L111.4 346.7L110.2 345.5L108.3 344.3L104.4 343L98.6 340.6L90.9 339L85.1 338.2L75.5 336.4L69.7 335.9L60 335.7ZM210.2 350.4L210.1 351.6L210.7 352.3L212.7 352L213.1 351.6L213 350.4L212.7 350L210.7 349.7Z" fill="#9dbbfb" fill-rule="evenodd"/>
<path d="M60 304.4L323.2 304.4L324.7 307.7L325.4 311.7L326.3 314.1L327.7 316.5L328.6 317.5L330.5 318.3L338.3 318.8L347.9 318.8L349.9 318.7L351.8 318.2L357.6 318L363.4 317.4L369.2 317.5L373.1 317.4L382.7 316.5L384.7 316.5L388.5 316.7L396.2 316.6L402 317L405.9 316.6L411.7 317L417.5 316.6L425.2 317.5L429.1 317.3L433 317.4L436.8 317.2L440.7 317.5L444.6 317.6L454.2 317L458.1 317.4L460 317.5L463.9 316.9L475.5 317L485.1 316.8L490.9 317.5L494.8 317.4L498.7 317.7L502.5 318.3L508.3 318.4L516.1 319.5L521.9 319.8L529.6 319.6L535.4 319.9L543.1 319.2L550.8 319.1L556.6 317.9L559.2 315.3L560.5 313.3L561.1 310.4L561.6 304.4L637.8 304.4L637.8 333.4L630.1 334L626.2 334.6L622.3 335.5L620.4 336.5L618.5 338.3L617 340.7L615.9 343.1L614.8 347.9L614.6 351.6L615 355.2L616 358.8L616.7 360L617.9 361.2L619.8 362.5L622.3 363.3L624.9 363.7L637.8 364.5L637.8 380.6L60 380.6L60 364.6L75.5 364.3L98.6 362.8L110.2 361.1L114.1 359.8L116 359.6L133.4 359.7L137.3 360L139.2 359.8L143.1 358.8L145 358.6L148.9 358.6L152.8 358L154.7 357.9L156.6 357.6L158.6 356.8L162.4 356.1L164.4 355.4L166.3 354.2L167.3 352.8L167.8 351.6L167.7 350.4L167.2 349.2L166.3 347.9L164.4 346.8L162.4 346L158.6 345.3L156.6 344.5L154.7 344.1L152.8 344L148.9 343.2L145 343.3L143.1 343.1L139.2 341.6L137.3 341.4L133.4 341.8L121.8 341.8L116 342L114.1 341.7L110.2 339.4L108.3 338.8L104.4 338L98.6 336.4L75.5 333.6L69.7 333.3L60 333.3ZM208.3 341.9L201.1 346L198.8 347.9L197.8 349.2L197.2 350.4L197.2 351.6L197.7 352.8L198.6 354L199.8 355.2L201.5 356.4L206.1 358.8L208.8 359.8L210.7 360.1L212.9 360L216.5 359.5L219.2 358.8L222.3 357.7L224.3 357.4L228.1 357.8L230.1 357.7L232 356.4L233.2 354L233.6 352.8L233.7 350.4L233.1 347.9L232 345.6L230.1 344.3L228.1 344.2L224.3 344.7L222.3 344.4L218.5 342.7L214.6 341.6L212.7 341.3L210.7 341.2ZM181.3 349.2L180.8 350.4L180.7 351.6L181.2 352.8L181.7 353.5L183.7 354L184.4 352.8L184.8 351.6L184.8 350.4L184.3 349.2L183.7 348.1L181.7 348.6Z" fill="#b8d0f6" fill-rule="evenodd"/>
<path d="M60 304.4L302.2 304.4L302.9 309.2L303.5 311.9L304.5 314.1L305.8 315.3L307.4 316.3L308.1 316.5L313.1 317.6L317 318.8L318.9 319.1L322.8 319L324.7 319.3L328.6 321.6L330.5 322L338.3 322.3L347.9 322.3L349.9 322.2L351.8 322L363.4 321.5L371.1 321.6L384.7 321.1L402 321.3L405.9 321.1L411.7 321.3L417.5 321.1L425.2 321.5L436.8 321.4L444.6 321.6L454.2 321.3L460 321.6L463.9 321.3L485.1 321.2L490.9 321.6L494.8 321.5L498.7 321.7L502.5 322L508.3 322L516.1 322.7L535.4 323L543.1 322.5L550.8 322.4L554.7 322.1L556.6 321.8L560.5 320.1L561.8 318.9L563.8 316.5L565 314.1L565.4 312.9L565.9 310.4L566.5 304.4L571.2 304.4L571.5 310.4L572.1 314L574 314L574.5 310.4L574.8 304.4L597.5 304.4L598.2 306.8L599.2 309L599.6 304.4L637.8 304.4L637.8 331.1L624.3 331.9L620.4 332.5L618.2 333.4L616.7 334.6L615.8 335.8L615 337.1L613.9 339.5L612.9 343.1L612.5 345.5L612.1 349.2L612 351.6L612.5 356.4L612.9 358.8L613.4 360L615.1 362.5L616.6 363.7L618.5 364.6L622.3 365.4L628.1 365.8L637.8 366L637.8 380.6L60 380.6L60 366.1L75.5 365.9L98.6 365.1L110.2 364.3L114.1 363.7L116 363.6L137.3 363.7L143.1 363.2L156.6 362.9L166.3 362.2L168.2 361.8L172.1 360.3L174 360.1L179.8 361.7L181.7 362.1L183.7 362.1L185.6 361.7L189.5 359.6L191.4 359.6L195.1 361.2L197.2 361.9L208.8 363.7L214.6 363.7L224.3 362.8L230.1 362.9L232 362.6L233.9 361.8L236 360L236.8 358.8L237.3 357.6L238.3 354L238.7 351.6L238.5 349.2L237.3 344.3L236.9 343.1L235.6 340.7L233.9 338.1L232 336.6L230.1 336.1L224.3 336.3L222.3 336.1L214.6 334.8L210.7 334.6L208.8 334.8L201.1 336.7L197.2 337.9L195.3 338.9L191.4 341.9L189.5 341.9L185.6 338.3L183.7 337.5L181.7 337.6L179.8 338.2L174 341.2L172.1 340.8L168.5 338.3L166.3 337.4L162.4 336.8L158.6 336.5L156.6 336.2L148.9 335.6L143.1 335.6L139.2 334.8L137.3 334.7L133.4 334.9L116 335L114.1 334.8L110.2 333.8L108.3 333.5L98.6 332.5L75.5 331.3L60 331.1ZM533.6 375.8L535.4 376.2L537.4 375.8L535.4 375.6Z" fill="#d3dde8" fill-rule="evenodd"/>
<path d="M60 304.4L282.3 304.4L282.3 327.4L284.2 327.6L585.6 327.6L586.4 328.6L586.4 367.3L585.6 368.1L284.2 368.1L282.3 368.5L282.3 380.6L60 380.6L60 368.1L282.2 368.1L282.3 367.3L282.2 327.6L60 327.6ZM587.6 304.4L588.9 304.4L588.9 327.4L587.6 327.6L586.4 327.4L586.4 304.4ZM608.8 304.4L637.8 304.4L637.8 327.6L608.8 327.6L608.5 328.6L608.5 367.3L608.8 368.1L637.8 368.1L637.8 380.6L608.5 380.6L608.5 368.5L606.9 368.1L589.5 368.1L588.9 367.3L588.9 328.6L589.5 327.6L606.9 327.6L608.5 327.4L608.5 304.4ZM587.6 368.1L588.9 368.5L588.9 380.6L586.4 380.6L586.4 368.5Z" fill="#e4d8d0" fill-rule="evenodd"/>
<path d="M60 304.4L239.2 304.4L238.4 311.7L237.7 314.1L236.7 316.5L235.8 317.7L233.9 319.4L232 320L230.1 320.3L218.5 320.9L210.7 320.7L208.8 320.4L204.9 319.2L199.1 317.9L195.3 317.4L193.3 316.8L191.3 315.3L190.2 314.1L189.5 312.6L188.6 311.7L187.5 309.8L186.5 311.7L184.4 314.1L183.7 314.6L182.1 315.3L174 317.2L168.2 319.9L162.4 320.9L156.6 321.7L148.9 322.1L143.1 321.9L125.7 321.9L118 322.8L108.3 322.8L100.6 323.5L79.3 324.3L60 324.6ZM612.7 304.4L637.8 304.4L637.8 324.4L628.1 323.9L622.3 323.3L620.4 322.8L618.5 322L616.5 320.8L615.8 320.1L614.8 318.9L613.5 316.5L613.2 315.3L612.7 312.9L612.3 306.8L612.3 304.4ZM338.3 333.4L349.9 333.4L351.8 333.8L363.4 334.4L373.1 334.3L384.7 335L388.5 334.8L396.2 334.9L402 334.6L405.9 335L411.7 334.7L417.5 335L425.2 334.3L436.8 334.5L444.6 334.2L454.2 334.7L460 334.3L463.9 334.7L475.5 334.6L485.1 334.8L490.9 334.3L494.8 334.4L498.7 334.1L502.5 333.7L508.3 333.7L514.1 333.1L521.9 332.8L535.4 332.7L552.8 333.4L556.6 334L558.5 334.6L560.5 335.9L561.6 337.1L563.1 339.5L565.5 344.3L567 349.2L567.2 351.6L566.8 354L565.5 357.6L564 360L561.5 362.5L560.5 363.1L558.8 363.7L556.6 364.2L550.8 364.6L535.4 365L521.9 364.9L485.1 363.7L463.9 363.7L460 364L454.2 363.8L444.6 364L436.8 363.8L425.2 364L417.5 363.6L411.7 363.8L405.9 363.6L402 363.8L384.7 363.6L373.1 364L363.4 363.9L347.9 364.5L330.5 364.3L328.6 364L326.7 362.9L324.7 362.5L322.8 362.3L318.9 362.3L317 362.1L313.1 361.2L307.4 360.2L305.4 359.3L304.7 358.8L303.6 357.6L302.3 355.2L301.6 352.8L301.4 351.6L301.6 349.2L302.4 346.7L303.7 344.3L305.4 342.4L307.4 341.1L313.1 339.2L317 337.6L318.9 337.2L322.8 337.2L324.7 336.9L326.7 336.1L328.6 334.3L330.5 333.7ZM572.1 343.2L574 343.3L574.9 347.9L575.1 350.4L575.1 352.8L574.6 356.4L574 358.6L572.1 358.6L571.4 356.4L571 354L570.8 351.6L570.9 349.2L571.2 346.7ZM599.2 345.8L600 349.2L600.1 351.6L599.8 354L599.2 356.3L597.2 354.7L596.6 351.6L596.7 349.2L597.2 347.4ZM60 371.8L71.6 372L79.3 372.6L98.1 374.6L101.3 375.8L100.1 377L96.7 377.7L90.9 378.5L73.5 380.4L60 380.6ZM635.9 372.1L637.8 372L637.8 380.5L628.1 379.7L624.3 379L622.3 378.4L620.4 377.2L620.1 377L619.8 375.8L620.7 374.6L622.3 373.8L624.2 373.3L628.1 372.7Z" fill="#ecc2ac" fill-rule="evenodd"/>
<path d="M60 304.4L170.1 304.4L169.5 308L168.5 311.7L167.9 312.9L166.5 314.1L164.3 315.3L161.5 316.5L154.7 318L148.9 318.4L143.1 318L139.2 318.3L133.4 318L125.7 318.1L121.8 319.2L118 319.7L108.3 319.7L100.6 320.6L77.4 321.8L60 322.1ZM204.9 304.4L234.3 304.4L233.9 308.6L232.9 311.7L232 313.1L230.1 314.3L228.1 314.7L218.5 316L212.7 315.7L210.7 315.5L208.8 314.6L208.2 314.1L207.2 312.9L206.1 310.4L204.4 304.4ZM616.5 304.4L637.8 304.4L637.8 321.9L628.1 321.2L622.3 320.3L620.4 319.6L618.5 318.2L617 316.5L616.4 315.3L615.9 314.1L615.5 311.7L615 304.4ZM533.4 337L537.3 337L543.1 337.9L548.9 338L552.8 338.5L556.6 339.8L558.6 341.4L560.1 343.1L560.7 344.3L561.5 346.7L562.2 350.4L561.9 354L560.8 357.6L560 358.8L558.6 360L556.6 360.8L550.8 361.8L543.1 361.9L535.4 362.5L529.6 362.3L521.9 362.4L514.1 362L508.3 361.2L502.5 361.2L498.7 360.6L494.8 360.4L490.9 360.5L489 360.3L485.1 359.8L475.5 360.1L463.9 360L460 360.5L454.2 360L444.6 360.6L436.8 360.2L425.2 360.4L417.5 359.6L411.7 360L405.9 359.6L402 360.1L400.1 360L396.2 359.7L388.5 359.8L384.7 359.5L373.1 360.4L363.4 360.4L357.6 360.9L351.8 361.1L349.9 361.5L338.3 361.6L330.5 361.1L328.6 360.5L327.2 358.8L326.7 357.7L324.7 355.9L322.8 354.7L318.9 354.8L317 353.6L316.5 352.8L316.1 351.6L316.1 350.4L317 348.5L318.9 347.3L322.8 347.4L324.7 346.2L326.7 344.4L327.1 343.1L328.6 340.5L330.3 339.5L330.5 339.3L338.3 338.5L349.9 338.6L351.8 339.4L357.6 339.8L363.4 340.7L365.3 340.8L369.2 340.4L373.1 340.6L382.7 342L384.7 342L388.5 341.7L396.2 341.9L400.1 341.3L402 341.3L405.9 341.9L407.8 341.9L411.7 341.3L417.5 341.9L419.4 341.7L423.3 340.8L425.2 340.6L429.1 340.8L433 340.7L436.8 341L440.7 340.5L444.6 340.3L454.2 341.3L458.1 340.6L460 340.6L463.9 341.4L475.5 341.2L485.1 341.6L490.9 340.5L494.8 340.8L498.7 340.3L502.5 339.2L504.5 339L506.4 339.3L508.3 339.2L512.2 338.2L516.1 337.5L521.9 337.1L529.6 337.3Z" fill="#eaa389" fill-rule="evenodd"/>
<path d="M60 304.4L160.2 304.4L158.8 308L157.5 310.4L156.6 311.7L154.7 313.1L150.8 314.1L147.6 314.1L143.1 313L139.2 313.7L137.3 313.6L135.4 313L133.4 312.9L127.6 313.1L125.7 313.3L124.7 314.1L121.8 315.7L118 316.6L116 316.7L108.3 316.6L100.6 318.1L79.3 319.9L69.7 320.3L60 320.3ZM618.5 304.4L637.8 304.4L637.8 320.1L630.1 319.3L626.2 318.6L622.3 317.6L620.4 316.5L618.6 314.1L618 311.7L617.2 304.4ZM521.9 341.8L529.6 342L535.4 341.4L537.3 341.6L543.1 342.9L548.9 343L550.8 343.2L553.8 344.3L556.6 346.2L557.7 347.9L558.2 349.2L558.5 350.4L558.5 351.6L558.3 352.8L557.8 354L556.6 355.9L554.7 357.2L552.8 358.1L550.8 358.7L549.3 358.8L543.1 358.9L537.3 359.9L535.4 360L529.6 359.6L521.9 359.7L516.1 359.3L513.1 358.8L508.3 357.1L506.4 356.9L504.5 357.3L502.5 357L498.7 355.1L494.8 354L492.9 354.1L490.9 354.5L489.2 354L487.7 352.8L486.9 351.6L487 350.4L487.8 349.2L489 348.2L490.9 347.6L492.9 348L494.8 348.2L498.7 347.1L502.5 345.1L504.5 344.8L506.4 345.2L508.3 345L512.2 343.3L514.1 342.7L516.1 342.4ZM336.3 344.2L338.3 343.9L340.2 343.8L344.1 344.1L347.9 343.8L349.9 344L351.8 345.4L355.7 345.8L357.6 346.2L359.7 346.7L363.4 348L365.3 348.3L369.2 347.5L373.1 347.8L375 348.3L376.6 349.2L378 350.4L378.1 351.6L376.8 352.8L375 353.8L373.1 354.3L369.2 354.7L365.3 353.9L363.4 354.1L360.3 355.2L357.6 355.9L355.7 356.3L351.8 356.7L349.9 358L347.9 358.1L344.1 357.9L340.2 358.1L338.3 358.1L330.5 356.8L329.1 355.2L328.5 354L328.1 351.6L328.1 350.4L328.6 347.6L330.5 345.3L334.4 344.7ZM425.2 347.7L429.1 348.3L431 348L433 347.9L434.9 348.6L436.8 349L440.7 347.5L444.6 347.2L446.5 347.5L448.1 347.9L454.2 350.4L454.2 350.6L454.2 350.4L457.9 347.9L460 347.7L462.4 349.2L463.4 350.4L463.5 351.6L462.6 352.8L460 354.4L458.1 354.2L454.2 351.6L448.6 354L446.5 354.7L444.6 355L440.7 354.6L436.8 353.1L434.9 353.5L433 354.2L431 354.1L429.1 353.8L425.2 354.4L423.3 353.7L421.9 352.8L421.1 351.6L421.1 350.4L422.1 349.2L423.3 348.4ZM400.1 350.2L402 350.1L402.4 350.4L402.4 351.6L402 351.9L400.1 351.9L399.8 351.6L399.9 350.4ZM411.7 350.4L411.9 351.6L411.7 351.6L411.6 351.6ZM467.7 350.2L469.7 350L471.1 350.4L471.3 351.6L469.7 352L467.7 351.8L467.2 351.6L467.3 350.4ZM475.5 349.8L477.4 350L478.1 350.4L478.2 351.6L477.4 352.1L475.5 352.3L473.6 351.6L473.7 350.4Z" fill="#e4836a" fill-rule="evenodd"/>
<path d="M60 304.4L122.1 304.4L121.2 306.8L119.9 309.2L118 311.1L116 311.8L110.2 310.9L108.3 311.1L106.4 312.3L105.8 312.9L104.1 314.1L102.5 314.8L100.6 315.3L90.9 316.7L77.4 318L69.7 318.4L60 318.5ZM620.4 304.4L637.8 304.4L637.8 318.1L627.3 316.5L624.3 315.5L622.3 314.4L621.2 312.9L620.4 310.4L619.6 304.4ZM533.4 346.7L535.4 346.4L537.3 346.6L539.9 347.9L543.1 350.1L544.3 350.4L544.5 351.6L543.1 351.9L542.2 352.8L541.2 353.2L540.2 354L537.3 355.5L535.4 355.7L529.6 354.6L527.7 354.6L523.8 355.2L521.9 355.2L516.1 353.8L514.3 352.8L513.5 351.6L513.5 350.4L514.5 349.2L516.1 348.3L517.4 347.9L521.9 347L523.8 347L527.7 347.5L529.6 347.5Z" fill="#d65f4e" fill-rule="evenodd"/>
<path d="M60 304.4L102.9 304.4L102.5 305.7L101.8 306.8L100.6 308.5L99.8 309.2L97.9 310.4L92.8 312.9L90.9 313.5L88.7 314.1L77.4 315.9L69.7 316.6L63.9 316.5L60 316.6ZM624.3 304.4L637.8 304.4L637.8 316.1L630.1 314.3L628.1 313.6L626.9 312.9L625.7 311.7L624.9 310.4L624.2 309.2L623.4 306.8L622.8 304.4Z" fill="#c32f35" fill-rule="evenodd"/>
<path d="M60 304.4L89.2 304.4L87.1 306.6L82.3 310.4L80.6 311.7L77.6 312.9L69.7 314.1L63.9 314L60 314.3ZM630.1 304.4L637.8 304.4L637.8 313.2L637 312.9L635.3 311.7L630.2 306.8L629 304.4Z" fill="#b81c2c" fill-rule="evenodd"/>
<polyline fill="none" stroke="#000" stroke-width="1.05" stroke-linejoin="round" points="60.0,366.4 61.9,365.6 63.9,365.3 65.8,365.0 67.7,364.9 69.7,364.7 71.6,364.6 73.5,364.4 75.5,364.3 77.4,364.1 79.3,364.0 81.3,363.9 83.2,363.7 85.1,363.6 87.1,363.5 89.0,363.3 90.9,363.2 92.9,363.1 94.8,362.9 96.7,362.8 98.6,362.7 100.6,362.6 102.5,362.4 104.4,362.3 106.4,362.2 108.3,362.0 110.2,361.9 112.2,361.8 114.1,361.7 116.0,361.5 118.0,361.4 119.9,361.3 121.8,361.2 123.8,361.1 125.7,361.0 127.6,360.9 129.6,360.8 131.5,360.7 133.4,360.7 135.4,360.6 137.3,360.5 139.2,360.4 141.2,360.3 143.1,360.3 145.0,360.2 147.0,360.1 148.9,360.1 150.8,360.0 152.8,360.0 154.7,359.9 156.6,359.9 158.6,359.8 160.5,359.8 162.4,359.7 164.4,359.7 166.3,359.6 168.2,359.6 170.1,359.5 172.1,359.5 174.0,359.4 175.9,359.4 177.9,359.3 179.8,359.2 181.7,359.2 183.7,359.1 185.6,359.0 187.5,359.0 189.5,358.9 191.4,358.8 193.3,358.7 195.3,358.7 197.2,358.6 199.1,358.5 201.1,358.4 203.0,358.4 204.9,358.3 206.9,358.2 208.8,358.1 210.7,358.1 212.7,358.0 214.6,357.9 216.5,357.8 218.5,357.7 220.4,357.7 222.3,357.6 224.3,357.5 226.2,357.4 228.1,357.3 230.1,357.2 232.0,357.2 233.9,357.1 235.9,357.0 237.8,356.9 239.7,356.8 241.6,356.7 243.6,356.7 245.5,356.6 247.4,356.5 249.4,356.4 251.3,356.3 253.2,356.2 255.2,356.2 257.1,356.1 259.0,356.0 261.0,355.9 262.9,355.8 264.8,355.7 266.8,355.6 268.7,355.5 270.6,355.4 272.6,355.4 274.5,355.3 276.4,355.2 278.4,355.1 280.3,355.0 282.2,354.9 284.2,354.9 286.1,354.8 288.0,354.7 290.0,354.6 291.9,354.6 293.8,354.5 295.8,354.4 297.7,354.4 299.6,354.3 301.6,354.2 303.5,354.2 305.4,354.1 307.4,354.1 309.3,354.0 311.2,353.9 313.1,353.9 315.1,353.8 317.0,353.8 318.9,353.7 320.9,353.6 322.8,353.6 324.7,353.5 326.7,353.5 328.6,353.4 330.5,353.3 332.5,353.3 334.4,353.2 336.3,353.2 338.3,353.1 340.2,353.0 342.1,353.0 344.1,352.9 346.0,352.9 347.9,352.8 349.9,352.7 351.8,352.7 353.7,352.6 355.7,352.6 357.6,352.5 359.5,352.4 361.5,352.4 363.4,352.3 365.3,352.3 367.3,352.2 369.2,352.1 371.1,352.1 373.1,352.0 375.0,352.0 376.9,351.9 378.9,351.8 380.8,351.8 382.7,351.7 384.7,351.7 386.6,351.6 388.5,351.5 390.4,351.5 392.4,351.4 394.3,351.3 396.2,351.3 398.2,351.2 400.1,351.1 402.0,351.1 404.0,351.0 405.9,350.9 407.8,350.9 409.8,350.8 411.7,350.7 413.6,350.7 415.6,350.6 417.5,350.5 419.4,350.5 421.4,350.4 423.3,350.3 425.2,350.3 427.2,350.2 429.1,350.1 431.0,350.1 433.0,350.0 434.9,349.9 436.8,349.9 438.8,349.8 440.7,349.8 442.6,349.7 444.6,349.6 446.5,349.6 448.4,349.5 450.4,349.4 452.3,349.4 454.2,349.3 456.2,349.3 458.1,349.2 460.0,349.2 461.9,349.1 463.9,349.1 465.8,349.0 467.7,349.0 469.7,348.9 471.6,348.9 473.5,348.8 475.5,348.8 477.4,348.7 479.3,348.7 481.3,348.6 483.2,348.6 485.1,348.5 487.1,348.5 489.0,348.4 490.9,348.4 492.9,348.3 494.8,348.3 496.7,348.2 498.7,348.2 500.6,348.1 502.5,348.1 504.5,348.0 506.4,348.0 508.3,347.9 510.3,347.9 512.2,347.8 514.1,347.8 516.1,347.7 518.0,347.6 519.9,347.6 521.9,347.5 523.8,347.4 525.7,347.4 527.7,347.3 529.6,347.2 531.5,347.2 533.4,347.1 535.4,347.0 537.3,346.9 539.2,346.8 541.2,346.8 543.1,346.7 545.0,346.6 547.0,346.5 548.9,346.3 550.8,346.2 552.8,346.1 554.7,345.9 556.6,345.8 558.6,345.6 560.5,345.4 562.4,345.2 564.4,345.1 566.3,344.9 568.2,344.7 570.2,344.5 572.1,344.3 574.0,344.0 576.0,343.8 577.9,343.6 579.8,343.4 581.8,343.2 583.7,343.0 585.6,342.8 587.6,342.6 589.5,342.4 591.4,342.1 593.4,341.9 595.3,341.6 597.2,341.3 599.2,341.0 601.1,340.8 603.0,340.5 604.9,340.2 606.9,339.8 608.8,339.2 610.7,338.5 612.7,337.8 614.6,336.9 616.5,335.9 618.5,334.7 620.4,333.4 622.3,331.9 624.3,330.3 626.2,328.4 628.1,326.3 630.1,323.7 632.0,319.9 633.9,316.3 635.9,313.6 637.8,311.6"/>
</g>
<rect x="60.0" y="304.4" width="577.8" height="76.2" fill="none" stroke="#000" stroke-width="0.55"/>
<line x1="57.4" y1="304.40" x2="60.0" y2="304.40" stroke="#000" stroke-width="0.55"/>
<text x="55.3" y="308.60" font-family="'DejaVu Sans','Liberation Sans',sans-serif" font-size="10.8" text-anchor="end">80W</text>
<line x1="57.4" y1="323.45" x2="60.0" y2="323.45" stroke="#000" stroke-width="0.55"/>
<text x="55.3" y="327.65" font-family="'DejaVu Sans','Liberation Sans',sans-serif" font-size="10.8" text-anchor="end">120W</text>
<line x1="57.4" y1="342.50" x2="60.0" y2="342.50" stroke="#000" stroke-width="0.55"/>
<text x="55.3" y="346.70" font-family="'DejaVu Sans','Liberation Sans',sans-serif" font-size="10.8" text-anchor="end">160W</text>
<line x1="57.4" y1="361.55" x2="60.0" y2="361.55" stroke="#000" stroke-width="0.55"/>
<text x="55.3" y="365.75" font-family="'DejaVu Sans','Liberation Sans',sans-serif" font-size="10.8" text-anchor="end">160E</text>
<line x1="57.4" y1="380.60" x2="60.0" y2="380.60" stroke="#000" stroke-width="0.55"/>
<text x="55.3" y="384.80" font-family="'DejaVu Sans','Liberation Sans',sans-serif" font-size="10.8" text-anchor="end">120E</text>
<line x1="60.00" y1="380.6" x2="60.00" y2="383.2" stroke="#000" stroke-width="0.55"/>
<text x="60.00" y="391.7" font-family="'DejaVu Sans','Liberation Sans',sans-serif" font-size="7.1" text-anchor="middle">0</text>
<line x1="175.56" y1="380.6" x2="175.56" y2="383.2" stroke="#000" stroke-width="0.55"/>
<text x="175.56" y="391.7" font-family="'DejaVu Sans','Liberation Sans',sans-serif" font-size="7.1" text-anchor="middle">20</text>
<line x1="291.12" y1="380.6" x2="291.12" y2="383.2" stroke="#000" stroke-width="0.55"/>
<text x="291.12" y="391.7" font-family="'DejaVu Sans','Liberation Sans',sans-serif" font-size="7.1" text-anchor="middle">40</text>
<line x1="406.68" y1="380.6" x2="406.68" y2="383.2" stroke="#000" stroke-width="0.55"/>
<text x="406.68" y="391.7" font-family="'DejaVu Sans','Liberation Sans',sans-serif" font-size="7.1" text-anchor="middle">60</text>
<line x1="522.24" y1="380.6" x2="522.24" y2="383.2" stroke="#000" stroke-width="0.55"/>
<text x="522.24" y="391.7" font-family="'DejaVu Sans','Liberation Sans',sans-serif" font-size="7.1" text-anchor="middle">80</text>
<g>
<rect x="643.2" y="304.40" width="9.1" height="6.65" fill="#c32f35"/>
<rect x="643.2" y="310.75" width="9.1" height="6.65" fill="#d65f4e"/>
<rect x="643.2" y="317.10" width="9.1" height="6.65" fill="#e4836a"/>
<rect x="643.2" y="323.45" width="9.1" height="6.65" fill="#eaa389"/>
<rect x="643.2" y="329.80" width="9.1" height="6.65" fill="#ecc2ac"/>
<rect x="643.2" y="336.15" width="9.1" height="6.65" fill="#e4d8d0"/>
<rect x="643.2" y="342.50" width="9.1" height="6.65" fill="#d3dde8"/>
<rect x="643.2" y="348.85" width="9.1" height="6.65" fill="#b8d0f6"/>
<rect x="643.2" y="355.20" width="9.1" height="6.65" fill="#9dbbfb"/>
<rect x="643.2" y="361.55" width="9.1" height="6.65" fill="#82a1f8"/>
<rect x="643.2" y="367.90" width="9.1" height="6.65" fill="#6783e6"/>
<rect x="643.2" y="374.25" width="9.1" height="6.65" fill="#4d60d0"/>
<path d="M643.2 304.4 L647.8 300.5 L652.3 304.4 Z" fill="#b81c2c"/>
<path d="M643.2 380.6 L647.8 384.5 L652.3 380.6 Z" fill="#444fc9"/>
<path d="M643.2 304.4 L647.8 300.5 L652.3 304.4 L652.3 380.6 L647.8 384.5 L643.2 380.6 Z" fill="none" stroke="#000" stroke-width="0.5"/>
</g>
<line x1="652.3" y1="304.40" x2="654.9" y2="304.40" stroke="#000" stroke-width="0.55"/>
<text x="657.4" y="308.50" font-family="'DejaVu Sans','Liberation Sans',sans-serif" font-size="10.1">0.6</text>
<line x1="652.3" y1="317.10" x2="654.9" y2="317.10" stroke="#000" stroke-width="0.55"/>
<text x="657.4" y="321.20" font-family="'DejaVu Sans','Liberation Sans',sans-serif" font-size="10.1">0.4</text>
<line x1="652.3" y1="329.80" x2="654.9" y2="329.80" stroke="#000" stroke-width="0.55"/>
<text x="657.4" y="333.90" font-family="'DejaVu Sans','Liberation Sans',sans-serif" font-size="10.1">0.2</text>
<line x1="652.3" y1="342.50" x2="654.9" y2="342.50" stroke="#000" stroke-width="0.55"/>
<text x="657.4" y="346.60" font-family="'DejaVu Sans','Liberation Sans',sans-serif" font-size="10.1">0.0</text>
<line x1="652.3" y1="355.20" x2="654.9" y2="355.20" stroke="#000" stroke-width="0.55"/>
<text x="657.4" y="359.30" font-family="'DejaVu Sans','Liberation Sans',sans-serif" font-size="10.1">−0.2</text>
<line x1="652.3" y1="367.90" x2="654.9" y2="367.90" stroke="#000" stroke-width="0.55"/>
<text x="657.4" y="372.00" font-family="'DejaVu Sans','Liberation Sans',sans-serif" font-size="10.1">−0.4</text>
<line x1="652.3" y1="380.60" x2="654.9" y2="380.60" stroke="#000" stroke-width="0.55"/>
<text x="657.4" y="384.70" font-family="'DejaVu Sans','Liberation Sans',sans-serif" font-size="10.1">−0.6</text>
<path d="M70.5 77.6 L73 77 L76 77.4 L83 76.4" fill="none" stroke="#f3dccb" stroke-width="0.9"/>
<path d="M61.5 176.4 L66 176 L76 176.3" fill="none" stroke="#f3dccb" stroke-width="0.9"/>
<text x="2.6" y="7.0" font-family="'DejaVu Sans','Liberation Sans',sans-serif" font-size="10.2" font-weight="bold">a</text>
<text x="2.6" y="106.2" font-family="'DejaVu Sans','Liberation Sans',sans-serif" font-size="10.2" font-weight="bold">b</text>
<text x="2.6" y="205.4" font-family="'DejaVu Sans','Liberation Sans',sans-serif" font-size="10.2" font-weight="bold">c</text>
<text x="2.6" y="304.7" font-family="'DejaVu Sans','Liberation Sans',sans-serif" font-size="10.2" font-weight="bold">d</text>
<text x="2.6" y="403.7" font-family="'DejaVu Sans','Liberation Sans',sans-serif" font-size="10.2" font-weight="bold">e</text>
<text transform="translate(18.9,44.9) rotate(-90)" font-family="'Liberation Serif','DejaVu Serif',serif" font-size="12.8" font-style="italic" text-anchor="middle">T′</text>
<text transform="translate(18.9,144.0) rotate(-90)" font-family="'Liberation Serif','DejaVu Serif',serif" font-size="12.8" font-style="italic" text-anchor="middle">R<tspan font-size="8.8" dy="2.5" font-style="normal">1</tspan><tspan font-style="normal" dy="-2.5"> + </tspan>R<tspan font-size="8.8" dy="2.5" font-style="normal">2</tspan></text>
<text transform="translate(18.9,243.2) rotate(-90)" font-family="'Liberation Serif','DejaVu Serif',serif" font-size="12.8" font-style="italic" text-anchor="middle">R<tspan font-size="8.8" dy="2.5" font-style="normal">1</tspan></text>
<text transform="translate(18.9,342.5) rotate(-90)" font-family="'Liberation Serif','DejaVu Serif',serif" font-size="12.8" font-style="italic" text-anchor="middle">R<tspan font-size="8.8" dy="2.5" font-style="normal">2</tspan></text>
<clipPath id="cl0"><rect x="60.0" y="6.8" width="577.8" height="76.2"/></clipPath>
<g clip-path="url(#cl0)" fill="none" stroke-width="0.7">
<circle cx="77.0" cy="25.2" r="3.0" stroke="#1f1fb4"/>
<circle cx="76.0" cy="40.0" r="3.0" stroke="#1f1fb4"/>
<circle cx="85.2" cy="41.0" r="1.8" stroke="#1f1fb4"/>
<circle cx="84.0" cy="46.4" r="2.4" stroke="#1f1fb4"/>
<circle cx="88.6" cy="50.0" r="2.8" stroke="#1f1fb4"/>
<circle cx="94.4" cy="48.4" r="1.6" stroke="#1f1fb4"/>
<circle cx="116.0" cy="40.2" r="2.8" stroke="#1f1fb4"/>
<circle cx="153.0" cy="9.0" r="1.6" stroke="#1f1fb4"/>
<circle cx="163.2" cy="6.6" r="2.0" stroke="#1f1fb4"/>
<circle cx="179.4" cy="9.0" r="1.2" stroke="#1f1fb4"/>
<circle cx="197.8" cy="9.4" r="1.3" stroke="#1f1fb4"/>
<circle cx="223.0" cy="19.0" r="1.3" stroke="#1f1fb4"/>
<circle cx="234.4" cy="41.2" r="1.4" stroke="#1f1fb4"/>
<circle cx="203.4" cy="47.0" r="1.8" stroke="#1f1fb4"/>
<circle cx="481.4" cy="17.0" r="1.2" stroke="#111"/>
<circle cx="482.4" cy="30.4" r="1.2" stroke="#111"/>
<circle cx="570.8" cy="47.8" r="1.6" stroke="#111"/>
<circle cx="521.6" cy="10.0" r="1.0" stroke="#3c8c28"/>
<circle cx="492.6" cy="59.0" r="1.6" stroke="#3c8c28"/>
<circle cx="502.2" cy="56.0" r="1.3" stroke="#3c8c28"/>
<circle cx="511.2" cy="55.6" r="1.6" stroke="#3c8c28"/>
<circle cx="526.2" cy="53.6" r="1.1" stroke="#3c8c28"/>
<circle cx="536.4" cy="48.4" r="1.2" stroke="#3c8c28"/>
<circle cx="621.6" cy="9.6" r="2.2" stroke="#111"/>
<circle cx="635.4" cy="19.6" r="2.6" stroke="#111"/>
<circle cx="625.0" cy="36.4" r="3.4" stroke="#111"/>
<circle cx="610.6" cy="44.0" r="2.2" stroke="#111"/>
<circle cx="600.8" cy="46.0" r="1.6" stroke="#111"/>
<circle cx="585.8" cy="49.4" r="2.0" stroke="#3c8c28"/>
<circle cx="607.6" cy="46.0" r="2.2" stroke="#3c8c28"/>
</g>
<clipPath id="cl1"><rect x="60.0" y="105.9" width="577.8" height="76.2"/></clipPath>
<g clip-path="url(#cl1)" fill="none" stroke-width="0.7">
<circle cx="75.6" cy="143.6" r="2.6" stroke="#1f1fb4"/>
<circle cx="77.0" cy="144.2" r="2.8" stroke="#1f1fb4"/>
<circle cx="84.2" cy="144.2" r="2.6" stroke="#1f1fb4"/>
<circle cx="89.0" cy="144.6" r="2.8" stroke="#1f1fb4"/>
<circle cx="85.4" cy="148.6" r="1.8" stroke="#1f1fb4"/>
<circle cx="94.8" cy="145.2" r="1.8" stroke="#1f1fb4"/>
<circle cx="116.4" cy="136.4" r="3.0" stroke="#1f1fb4"/>
<circle cx="153.0" cy="143.8" r="1.6" stroke="#1f1fb4"/>
<circle cx="163.2" cy="143.8" r="1.6" stroke="#1f1fb4"/>
<circle cx="179.4" cy="121.6" r="1.2" stroke="#1f1fb4"/>
<circle cx="223.0" cy="109.6" r="1.4" stroke="#1f1fb4"/>
<circle cx="234.4" cy="121.4" r="1.2" stroke="#1f1fb4"/>
<circle cx="197.6" cy="136.4" r="1.4" stroke="#1f1fb4"/>
<circle cx="203.4" cy="143.4" r="1.6" stroke="#1f1fb4"/>
<circle cx="481.4" cy="127.2" r="1.2" stroke="#111"/>
<circle cx="482.4" cy="143.4" r="1.2" stroke="#111"/>
<circle cx="521.6" cy="136.4" r="1.2" stroke="#111"/>
<circle cx="570.8" cy="121.6" r="1.7" stroke="#111"/>
<circle cx="492.8" cy="148.4" r="1.6" stroke="#3c8c28"/>
<circle cx="502.2" cy="148.6" r="1.4" stroke="#3c8c28"/>
<circle cx="511.2" cy="145.2" r="1.6" stroke="#3c8c28"/>
<circle cx="526.2" cy="148.4" r="1.2" stroke="#3c8c28"/>
<circle cx="536.4" cy="149.6" r="1.2" stroke="#3c8c28"/>
<circle cx="621.6" cy="110.0" r="2.2" stroke="#111"/>
<circle cx="635.4" cy="110.0" r="2.4" stroke="#111"/>
<circle cx="625.0" cy="121.0" r="3.4" stroke="#111"/>
<circle cx="610.4" cy="136.0" r="2.4" stroke="#111"/>
<circle cx="600.8" cy="135.8" r="1.6" stroke="#111"/>
<circle cx="585.8" cy="144.2" r="1.8" stroke="#3c8c28"/>
<circle cx="607.8" cy="144.8" r="2.6" stroke="#3c8c28"/>
</g>
<line x1="60.0" y1="449.54" x2="655.6" y2="449.54" stroke="#000" stroke-width="1" stroke-dasharray="3.7 1.6"/>
<polyline fill="none" stroke="#2222ff" stroke-width="1.45" stroke-linejoin="round" points="60.0,471.8 61.2,471.5 62.4,471.4 63.6,471.5 64.8,471.4 66.0,471.1 67.2,470.7 68.4,470.3 69.5,470.1 70.7,469.9 71.9,469.5 73.1,469.2 74.3,469.1 75.5,469.1 76.7,469.0 77.9,468.7 79.1,468.6 80.3,468.6 81.5,468.6 82.7,468.6 83.9,468.8 85.1,468.8 86.3,468.7 87.5,468.8 88.6,469.0 89.8,468.9 91.0,468.8 92.2,468.8 93.4,468.6 94.6,468.1 95.8,467.6 97.0,467.5 98.2,467.3 99.4,467.0 100.6,466.8 101.8,466.7 103.0,466.6 104.2,466.6 105.4,466.8 106.5,466.9 107.7,466.8 108.9,466.6 110.1,466.7 111.3,466.9 112.5,466.9 113.7,466.6 114.9,466.1 116.1,465.3 117.3,464.5 118.5,464.0 119.7,463.4 120.9,463.1 122.1,463.0 123.3,462.9 124.5,462.9 125.6,462.9 126.8,462.8 128.0,462.7 129.2,462.7 130.4,462.5 131.6,462.1 132.8,461.8 134.0,461.7 135.2,461.6 136.4,461.5 137.6,461.3 138.8,461.0 140.0,460.7 141.2,460.5 142.4,460.2 143.6,459.8 144.7,459.6 145.9,459.4 147.1,459.1 148.3,458.9 149.5,459.0 150.7,459.2 151.9,459.2 153.1,459.1 154.3,459.2 155.5,459.3 156.7,459.3 157.9,459.7 159.1,460.2 160.3,460.9 161.5,461.9 162.6,462.7 163.8,463.0 165.0,463.0 166.2,463.1 167.4,463.5 168.6,464.2 169.8,464.4 171.0,464.1 172.2,463.8 173.4,463.7 174.6,463.7 175.8,463.4 177.0,463.1 178.2,462.9 179.4,462.6 180.6,462.2 181.7,462.0 182.9,461.9 184.1,461.9 185.3,461.7 186.5,461.3 187.7,460.9 188.9,460.8 190.1,460.6 191.3,460.1 192.5,459.7 193.7,459.6 194.9,459.9 196.1,460.2 197.3,460.1 198.5,459.5 199.6,459.3 200.8,459.4 202.0,459.5 203.2,459.3 204.4,459.1 205.6,458.9 206.8,458.7 208.0,458.4 209.2,458.2 210.4,458.2 211.6,458.3 212.8,458.5 214.0,458.8 215.2,459.1 216.4,458.9 217.6,458.5 218.7,458.0 219.9,457.6 221.1,457.2 222.3,456.9 223.5,456.8 224.7,456.9 225.9,457.2 227.1,457.4 228.3,457.5 229.5,457.6 230.7,457.6 231.9,457.4 233.1,457.3 234.3,457.2 235.5,457.4 236.7,457.4 237.8,457.0 239.0,456.5 240.2,456.2 241.4,456.3 242.6,456.8 243.8,457.8 245.0,458.0 246.2,457.5 247.4,457.1 248.6,456.9 249.8,456.9 251.0,456.6 252.2,456.3 253.4,456.0 254.6,456.1 255.7,456.2 256.9,456.5 258.1,456.8 259.3,456.8 260.5,456.7 261.7,456.6 262.9,456.5 264.1,456.3 265.3,456.1 266.5,455.9 267.7,455.8 268.9,455.7 270.1,455.5 271.3,455.2 272.5,454.8 273.7,454.3 274.8,453.7 276.0,453.4 277.2,453.1 278.4,452.9 279.6,452.8 280.8,452.9 282.0,453.0 283.2,453.1 284.4,453.3 285.6,453.6 286.8,453.8 288.0,453.7 289.2,453.4 290.4,453.4 291.6,453.5 292.7,453.4 293.9,453.1 295.1,452.8 296.3,452.7 297.5,452.7 298.7,452.8 299.9,452.9 301.1,452.8 302.3,452.7 303.5,452.7 304.7,452.9 305.9,453.0 307.1,453.2 308.3,453.2 309.5,453.1 310.7,452.9 311.8,452.7 313.0,452.5 314.2,452.3 315.4,452.2 316.6,451.7 317.8,451.4 319.0,451.5 320.2,451.8 321.4,452.1 322.6,452.2 323.8,452.4 325.0,452.6 326.2,452.7 327.4,452.7 328.6,452.7 329.8,452.8 330.9,453.0 332.1,452.9 333.3,452.6 334.5,452.3 335.7,452.4 336.9,453.0 338.1,453.8 339.3,454.6 340.5,455.2 341.7,455.2 342.9,455.1 344.1,455.1 345.3,455.1 346.5,455.3 347.7,455.6 348.8,455.8 350.0,455.6 351.2,455.3 352.4,454.9 353.6,454.3 354.8,453.9 356.0,453.7 357.2,453.4 358.4,453.3 359.6,453.0 360.8,452.9 362.0,452.7 363.2,452.4 364.4,452.1 365.6,452.0 366.8,451.9 367.9,451.7 369.1,451.5 370.3,451.3 371.5,451.2 372.7,451.0 373.9,450.8 375.1,450.7 376.3,450.5 377.5,450.3 378.7,450.1 379.9,450.0 381.1,449.9 382.3,449.8 383.5,449.8 384.7,449.8 385.8,449.6 387.0,449.3 388.2,449.1 389.4,449.0 390.6,448.9 391.8,448.7 393.0,448.5 394.2,448.3 395.4,448.1 396.6,447.9 397.8,447.7 399.0,447.5 400.2,447.2 401.4,446.8 402.6,446.7 403.8,446.6 404.9,446.6 406.1,446.5 407.3,446.4 408.5,446.3 409.7,446.3 410.9,446.2 412.1,446.2 413.3,446.4 414.5,446.7 415.7,446.9 416.9,447.1 418.1,447.3 419.3,447.4 420.5,447.2 421.7,447.1 422.9,447.2 424.0,447.2 425.2,447.2 426.4,447.1 427.6,447.1 428.8,447.0 430.0,446.8 431.2,446.7 432.4,446.6 433.6,446.6 434.8,446.5 436.0,445.9 437.2,446.0 438.4,446.1 439.6,446.1 440.8,445.9 441.9,445.9 443.1,445.9 444.3,445.8 445.5,445.6 446.7,445.5 447.9,445.6 449.1,445.8 450.3,445.7 451.5,445.5 452.7,445.2 453.9,444.8 455.1,444.5 456.3,444.4 457.5,444.3 458.7,444.2 459.9,444.1 461.0,443.9 462.2,443.7 463.4,443.7 464.6,443.6 465.8,443.5 467.0,443.5 468.2,443.6 469.4,443.7 470.6,443.7 471.8,443.8 473.0,443.7 474.2,443.4 475.4,443.2 476.6,443.2 477.8,443.1 478.9,443.1 480.1,443.2 481.3,443.3 482.5,443.1 483.7,442.7 484.9,442.3 486.1,442.2 487.3,442.2 488.5,442.4 489.7,442.4 490.9,442.1 492.1,441.9 493.3,441.7 494.5,441.7 495.7,441.7 496.9,441.7 498.0,441.6 499.2,441.4 500.4,441.3 501.6,441.2 502.8,441.1 504.0,441.0 505.2,440.9 506.4,440.8 507.6,440.8 508.8,440.8 510.0,440.7 511.2,440.6 512.4,440.6 513.6,440.6 514.8,440.7 516.0,440.8 517.1,440.8 518.3,440.7 519.5,440.6 520.7,440.6 521.9,440.6 523.1,440.5 524.3,440.3 525.5,440.2 526.7,440.1 527.9,440.0 529.1,439.7 530.3,439.5 531.5,439.2 532.7,438.9 533.9,438.7 535.0,438.6 536.2,438.5 537.4,438.6 538.6,438.6 539.8,438.6 541.0,438.6 542.2,438.6 543.4,438.6 544.6,438.5 545.8,438.4 547.0,438.4 548.2,438.3 549.4,438.1 550.6,438.0 551.8,437.9 553.0,438.0 554.1,438.1 555.3,438.1 556.5,438.0 557.7,438.0 558.9,438.0 560.1,438.0 561.3,438.0 562.5,437.9 563.7,437.8 564.9,437.7 566.1,437.5 567.3,437.2 568.5,437.0 569.7,436.6 570.9,436.2 572.0,435.8 573.2,435.5 574.4,435.2 575.6,435.0 576.8,434.8 578.0,434.6 579.2,434.2 580.4,433.8 581.6,433.5 582.8,433.3 584.0,433.1 585.2,432.8 586.4,432.4 587.6,432.1 588.8,431.9 590.0,431.5 591.1,431.1 592.3,430.6 593.5,430.3 594.7,430.1 595.9,429.9 597.1,429.6 598.3,429.3 599.5,429.0 600.7,428.7 601.9,428.6 603.1,428.5 604.3,428.6 605.5,428.7 606.7,428.7 607.9,428.6 609.1,428.4 610.2,428.1 611.4,428.0 612.6,428.1 613.8,428.2 615.0,428.1 616.2,427.7 617.4,427.3 618.6,427.0 619.8,426.7 621.0,426.3 622.2,425.9 623.4,425.3 624.6,424.7 625.8,424.2 627.0,423.6 628.1,423.0 629.3,422.3 630.5,421.4 631.7,420.5 632.9,419.6 634.1,418.6 635.3,417.6 636.5,416.6 637.7,415.5 638.9,414.4 640.1,413.5 641.3,412.7 642.5,411.9 643.7,411.1 644.9,410.5 646.1,409.8 647.2,409.0 648.4,408.2 649.6,407.6 650.8,407.0 652.0,406.4 653.2,405.6 654.4,405.0 655.6,404.5"/>
<polyline fill="none" stroke="#ff2020" stroke-width="1.45" stroke-linejoin="round" points="60.0,470.9 61.2,471.0 62.4,471.1 63.6,471.3 64.8,471.8 66.0,472.3 67.2,472.8 68.4,472.8 69.5,472.7 70.7,472.6 71.9,472.7 73.1,473.1 74.3,473.3 75.5,473.3 76.7,472.9 77.9,472.2 79.1,471.5 80.3,471.1 81.5,470.6 82.7,470.0 83.9,469.6 85.1,469.4 86.3,469.2 87.5,468.9 88.6,468.7 89.8,468.5 91.0,468.2 92.2,467.9 93.4,467.6 94.6,467.4 95.8,467.2 97.0,467.0 98.2,467.0 99.4,466.8 100.6,466.4 101.8,466.0 103.0,465.6 104.2,465.1 105.4,464.3 106.5,463.6 107.7,463.2 108.9,462.8 110.1,462.3 111.3,461.8 112.5,461.4 113.7,461.2 114.9,461.2 116.1,461.2 117.3,460.9 118.5,460.5 119.7,460.3 120.9,460.0 122.1,459.7 123.3,459.4 124.5,458.9 125.6,458.4 126.8,458.1 128.0,457.9 129.2,457.7 130.4,457.6 131.6,457.8 132.8,458.2 134.0,458.9 135.2,459.8 136.4,460.5 137.6,460.8 138.8,460.7 140.0,460.8 141.2,461.0 142.4,461.0 143.6,460.7 144.7,460.3 145.9,459.9 147.1,459.6 148.3,459.5 149.5,459.6 150.7,459.8 151.9,460.1 153.1,460.1 154.3,459.7 155.5,459.4 156.7,459.1 157.9,458.7 159.1,458.4 160.3,458.2 161.5,458.0 162.6,457.5 163.8,456.8 165.0,456.3 166.2,455.7 167.4,455.1 168.6,454.5 169.8,454.1 171.0,453.7 172.2,453.6 173.4,453.6 174.6,453.5 175.8,453.5 177.0,453.7 178.2,453.9 179.4,454.0 180.6,453.8 181.7,453.5 182.9,453.3 184.1,453.1 185.3,452.9 186.5,452.6 187.7,452.4 188.9,452.4 190.1,452.4 191.3,452.2 192.5,452.1 193.7,452.3 194.9,452.5 196.1,452.5 197.3,452.2 198.5,452.0 199.6,452.3 200.8,453.0 202.0,453.7 203.2,454.3 204.4,454.9 205.6,455.7 206.8,456.1 208.0,455.9 209.2,455.5 210.4,455.3 211.6,455.5 212.8,455.8 214.0,456.0 215.2,456.4 216.4,457.1 217.6,457.8 218.7,458.0 219.9,458.1 221.1,457.8 222.3,457.3 223.5,456.8 224.7,456.5 225.9,456.3 227.1,456.0 228.3,455.8 229.5,455.6 230.7,455.7 231.9,455.8 233.1,455.7 234.3,455.4 235.5,455.2 236.7,454.9 237.8,454.5 239.0,454.0 240.2,453.7 241.4,453.3 242.6,452.7 243.8,452.1 245.0,451.4 246.2,450.4 247.4,450.3 248.6,450.4 249.8,450.6 251.0,450.7 252.2,450.9 253.4,450.9 254.6,450.8 255.7,450.8 256.9,450.9 258.1,451.0 259.3,450.8 260.5,450.4 261.7,450.1 262.9,449.9 264.1,449.8 265.3,449.8 266.5,450.0 267.7,450.3 268.9,450.6 270.1,450.9 271.3,451.1 272.5,451.1 273.7,451.4 274.8,452.4 276.0,453.1 277.2,453.0 278.4,452.4 279.6,452.0 280.8,451.7 282.0,451.4 283.2,451.0 284.4,450.5 285.6,450.2 286.8,450.0 288.0,449.7 289.2,449.5 290.4,449.4 291.6,449.3 292.7,449.2 293.9,449.0 295.1,448.9 296.3,448.9 297.5,449.0 298.7,448.9 299.9,448.3 301.1,447.6 302.3,446.8 303.5,445.9 304.7,445.1 305.9,444.6 307.1,444.5 308.3,444.6 309.5,444.7 310.7,444.6 311.8,444.6 313.0,444.6 314.2,444.5 315.4,444.1 316.6,443.8 317.8,443.8 319.0,443.7 320.2,443.4 321.4,442.9 322.6,442.5 323.8,442.2 325.0,442.3 326.2,442.5 327.4,442.6 328.6,442.6 329.8,442.4 330.9,442.1 332.1,442.1 333.3,441.9 334.5,441.1 335.7,440.2 336.9,439.2 338.1,438.5 339.3,438.5 340.5,438.6 341.7,438.7 342.9,438.7 344.1,438.8 345.3,439.0 346.5,439.0 347.7,439.0 348.8,439.2 350.0,439.3 351.2,439.2 352.4,438.9 353.6,438.5 354.8,438.4 356.0,438.7 357.2,439.1 358.4,439.3 359.6,439.2 360.8,439.1 362.0,439.1 363.2,439.2 364.4,439.4 365.6,439.8 366.8,440.5 367.9,441.2 369.1,441.6 370.3,441.7 371.5,441.7 372.7,441.5 373.9,441.5 375.1,441.8 376.3,441.9 377.5,441.7 378.7,441.4 379.9,441.4 381.1,441.8 382.3,442.1 383.5,442.3 384.7,442.5 385.8,442.7 387.0,442.5 388.2,442.4 389.4,442.6 390.6,443.0 391.8,442.9 393.0,442.6 394.2,442.2 395.4,442.0 396.6,442.0 397.8,442.1 399.0,442.1 400.2,442.1 401.4,441.9 402.6,441.4 403.8,441.1 404.9,441.1 406.1,441.1 407.3,441.2 408.5,441.2 409.7,441.0 410.9,440.5 412.1,439.8 413.3,439.2 414.5,438.7 415.7,438.5 416.9,438.6 418.1,439.0 419.3,439.4 420.5,439.5 421.7,439.5 422.9,439.8 424.0,440.2 425.2,440.5 426.4,440.4 427.6,440.0 428.8,439.8 430.0,439.7 431.2,440.0 432.4,440.4 433.6,440.7 434.8,440.8 436.0,440.9 437.2,440.7 438.4,440.3 439.6,440.0 440.8,440.1 441.9,440.3 443.1,440.4 444.3,440.4 445.5,440.4 446.7,440.5 447.9,440.7 449.1,440.7 450.3,440.5 451.5,440.1 452.7,439.8 453.9,439.6 455.1,439.6 456.3,439.5 457.5,439.5 458.7,439.7 459.9,439.9 461.0,440.1 462.2,440.3 463.4,440.3 464.6,440.3 465.8,440.4 467.0,440.5 468.2,440.2 469.4,439.8 470.6,439.8 471.8,440.0 473.0,440.3 474.2,440.3 475.4,440.3 476.6,440.3 477.8,440.3 478.9,440.2 480.1,440.4 481.3,440.5 482.5,440.3 483.7,440.0 484.9,439.8 486.1,439.7 487.3,439.6 488.5,439.6 489.7,439.7 490.9,439.8 492.1,440.5 493.3,441.6 494.5,442.1 495.7,441.8 496.9,441.2 498.0,440.7 499.2,440.4 500.4,440.1 501.6,439.9 502.8,439.7 504.0,439.5 505.2,439.4 506.4,439.3 507.6,439.2 508.8,439.3 510.0,439.4 511.2,439.3 512.4,439.0 513.6,438.7 514.8,438.3 516.0,437.6 517.1,436.8 518.3,436.1 519.5,435.7 520.7,435.6 521.9,435.8 523.1,435.9 524.3,436.1 525.5,436.3 526.7,436.4 527.9,436.1 529.1,435.9 530.3,436.1 531.5,436.4 532.7,436.4 533.9,436.3 535.0,436.5 536.2,436.9 537.4,437.2 538.6,437.2 539.8,437.1 541.0,437.1 542.2,437.3 543.4,437.6 544.6,437.8 545.8,437.8 547.0,437.6 548.2,437.3 549.4,437.0 550.6,436.7 551.8,436.6 553.0,436.5 554.1,436.3 555.3,435.9 556.5,435.6 557.7,435.5 558.9,435.4 560.1,435.2 561.3,435.1 562.5,435.1 563.7,435.2 564.9,435.4 566.1,435.7 567.3,436.0 568.5,436.2 569.7,436.4 570.9,436.8 572.0,437.5 573.2,438.5 574.4,439.5 575.6,440.4 576.8,441.2 578.0,442.1 579.2,443.0 580.4,444.0 581.6,444.7 582.8,444.9 584.0,444.9 585.2,445.3 586.4,445.8 587.6,446.0 588.8,446.4 590.0,447.1 591.1,448.0 592.3,448.8 593.5,449.3 594.7,449.6 595.9,449.8 597.1,449.7 598.3,449.4 599.5,449.0 600.7,448.8 601.9,448.9 603.1,449.0 604.3,448.8 605.5,448.2 606.7,447.4 607.9,446.7 609.1,446.3 610.2,446.1 611.4,445.8 612.6,445.6 613.8,445.3 615.0,445.2 616.2,445.4 617.4,445.8 618.6,446.3 619.8,447.0 621.0,447.8 622.2,448.5 623.4,448.9 624.6,449.1 625.8,449.4 627.0,449.8 628.1,450.5 629.3,451.4 630.5,452.6 631.7,454.0 632.9,455.3 634.1,456.3 635.3,457.2 636.5,458.3 637.7,459.7 638.9,461.5 640.1,463.4 641.3,465.0 642.5,466.2 643.7,467.1 644.9,468.2 646.1,469.6 647.2,470.8 648.4,471.6 649.6,472.0 650.8,472.3 652.0,472.7 653.2,473.2 654.4,473.7 655.6,473.8"/>
<rect x="60.0" y="403.4" width="595.6" height="76.9" fill="none" stroke="#000" stroke-width="0.55"/>
<line x1="57.4" y1="480.30" x2="60.0" y2="480.30" stroke="#000" stroke-width="0.55"/>
<text x="55.3" y="482.90" font-family="'DejaVu Sans','Liberation Sans',sans-serif" font-size="7.2" text-anchor="end">−2</text>
<line x1="57.4" y1="464.92" x2="60.0" y2="464.92" stroke="#000" stroke-width="0.55"/>
<text x="55.3" y="467.52" font-family="'DejaVu Sans','Liberation Sans',sans-serif" font-size="7.2" text-anchor="end">−1</text>
<line x1="57.4" y1="449.54" x2="60.0" y2="449.54" stroke="#000" stroke-width="0.55"/>
<text x="55.3" y="452.14" font-family="'DejaVu Sans','Liberation Sans',sans-serif" font-size="7.2" text-anchor="end">0</text>
<line x1="57.4" y1="434.16" x2="60.0" y2="434.16" stroke="#000" stroke-width="0.55"/>
<text x="55.3" y="436.76" font-family="'DejaVu Sans','Liberation Sans',sans-serif" font-size="7.2" text-anchor="end">1</text>
<line x1="57.4" y1="418.78" x2="60.0" y2="418.78" stroke="#000" stroke-width="0.55"/>
<text x="55.3" y="421.38" font-family="'DejaVu Sans','Liberation Sans',sans-serif" font-size="7.2" text-anchor="end">2</text>
<line x1="57.4" y1="403.40" x2="60.0" y2="403.40" stroke="#000" stroke-width="0.55"/>
<text x="55.3" y="406.00" font-family="'DejaVu Sans','Liberation Sans',sans-serif" font-size="7.2" text-anchor="end">3</text>
<line x1="60.00" y1="480.3" x2="60.00" y2="482.9" stroke="#000" stroke-width="0.55"/>
<text x="60.00" y="490.4" font-family="'DejaVu Sans','Liberation Sans',sans-serif" font-size="7.1" text-anchor="middle">0</text>
<line x1="179.12" y1="480.3" x2="179.12" y2="482.9" stroke="#000" stroke-width="0.55"/>
<text x="179.12" y="490.4" font-family="'DejaVu Sans','Liberation Sans',sans-serif" font-size="7.1" text-anchor="middle">20</text>
<line x1="298.24" y1="480.3" x2="298.24" y2="482.9" stroke="#000" stroke-width="0.55"/>
<text x="298.24" y="490.4" font-family="'DejaVu Sans','Liberation Sans',sans-serif" font-size="7.1" text-anchor="middle">40</text>
<line x1="417.36" y1="480.3" x2="417.36" y2="482.9" stroke="#000" stroke-width="0.55"/>
<text x="417.36" y="490.4" font-family="'DejaVu Sans','Liberation Sans',sans-serif" font-size="7.1" text-anchor="middle">60</text>
<line x1="536.48" y1="480.3" x2="536.48" y2="482.9" stroke="#000" stroke-width="0.55"/>
<text x="536.48" y="490.4" font-family="'DejaVu Sans','Liberation Sans',sans-serif" font-size="7.1" text-anchor="middle">80</text>
<text transform="translate(40.4,443.4) rotate(-90)" font-family="'DejaVu Sans','Liberation Sans',sans-serif" font-size="10.6" text-anchor="middle">PCs</text>
<text x="357.8" y="502.5" font-family="'DejaVu Sans','Liberation Sans',sans-serif" font-size="10.75" text-anchor="middle">quantiles of warm pool edge position (%)</text>
<rect x="64.3" y="407.9" width="39.5" height="28.3" rx="1.6" fill="#fff" fill-opacity="0.8" stroke="#ccc" stroke-width="0.6"/>
<line x1="67.2" y1="415.0" x2="85.2" y2="415.0" stroke="#3838ff" stroke-width="1.6"/>
<line x1="67.2" y1="427.6" x2="85.2" y2="427.6" stroke="#ff3030" stroke-width="1.6"/>
<text x="92.3" y="418.2" font-family="'Liberation Serif','DejaVu Serif',serif" font-size="10.3" font-style="italic">p<tspan font-size="6.6" dy="1.6" font-style="normal">1</tspan></text>
<text x="92.3" y="430.0" font-family="'Liberation Serif','DejaVu Serif',serif" font-size="10.3" font-style="italic">p<tspan font-size="6.6" dy="1.6" font-style="normal">2</tspan></text>
</svg>
</body></html>
